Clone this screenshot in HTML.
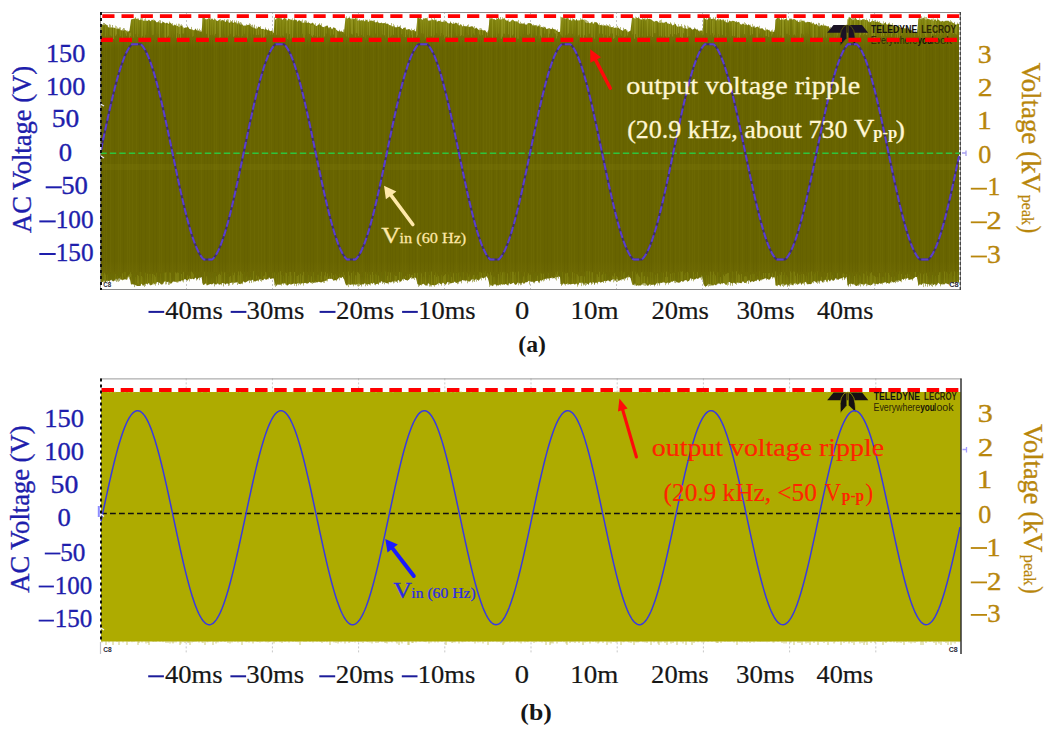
<!DOCTYPE html><html><head><meta charset="utf-8"><style>html,body{margin:0;padding:0;background:#fff;width:1054px;height:732px;overflow:hidden}</style></head><body><svg width="1054" height="732" viewBox="0 0 1054 732" style="position:absolute;left:0;top:0">
<rect width="1054" height="732" fill="#ffffff"/>
<defs><linearGradient id="og" gradientUnits="userSpaceOnUse" x1="0" y1="16" x2="0" y2="288"><stop offset="0" stop-color="#8c8e1c"/><stop offset="0.03" stop-color="#80820e"/><stop offset="0.08" stop-color="#706e04"/><stop offset="0.12" stop-color="#686400"/><stop offset="0.9" stop-color="#686400"/><stop offset="0.96" stop-color="#6e6a04"/><stop offset="1" stop-color="#7e7c10"/></linearGradient></defs>
<rect x="100" y="12" width="861" height="278" fill="#fdfdfd"/>
<line x1="186.5" y1="12" x2="186.5" y2="290" stroke="#c4c4c4" stroke-width="1" stroke-dasharray="2 2"/>
<line x1="272.5" y1="12" x2="272.5" y2="290" stroke="#c4c4c4" stroke-width="1" stroke-dasharray="2 2"/>
<line x1="358.5" y1="12" x2="358.5" y2="290" stroke="#c4c4c4" stroke-width="1" stroke-dasharray="2 2"/>
<line x1="444.5" y1="12" x2="444.5" y2="290" stroke="#c4c4c4" stroke-width="1" stroke-dasharray="2 2"/>
<line x1="530.5" y1="12" x2="530.5" y2="290" stroke="#c4c4c4" stroke-width="1" stroke-dasharray="2 2"/>
<line x1="616.5" y1="12" x2="616.5" y2="290" stroke="#c4c4c4" stroke-width="1" stroke-dasharray="2 2"/>
<line x1="702.5" y1="12" x2="702.5" y2="290" stroke="#c4c4c4" stroke-width="1" stroke-dasharray="2 2"/>
<line x1="788.5" y1="12" x2="788.5" y2="290" stroke="#c4c4c4" stroke-width="1" stroke-dasharray="2 2"/>
<line x1="874.5" y1="12" x2="874.5" y2="290" stroke="#c4c4c4" stroke-width="1" stroke-dasharray="2 2"/>
<path d="M101.0,23.8 L102.5,24.5 L104.0,25.6 L105.5,24.1 L107.0,25.2 L108.5,27.7 L110.0,27.6 L111.5,27.4 L113.0,27.7 L114.5,27.8 L116.0,28.6 L117.5,29.2 L119.0,28.3 L120.5,30.3 L122.0,30.3 L123.5,30.7 L125.0,30.1 L126.5,30.7 L128.0,32.4 L129.5,30.6 L131.0,19.9 L132.5,18.9 L134.0,18.7 L135.5,18.3 L137.0,19.1 L138.5,19.5 L140.0,20.2 L141.5,19.8 L143.0,20.6 L144.5,20.9 L146.0,20.5 L147.5,21.0 L149.0,19.6 L150.5,21.5 L152.0,19.5 L153.5,20.7 L155.0,20.6 L156.5,22.6 L158.0,22.0 L159.5,22.6 L161.0,23.4 L162.5,22.5 L164.0,22.2 L165.5,23.4 L167.0,22.5 L168.5,24.0 L170.0,22.6 L171.5,23.8 L173.0,25.8 L174.5,24.9 L176.0,25.7 L177.5,25.8 L179.0,27.3 L180.5,26.1 L182.0,25.9 L183.5,28.5 L185.0,27.6 L186.5,27.6 L188.0,26.8 L189.5,29.0 L191.0,29.3 L192.5,29.9 L194.0,30.4 L195.5,28.7 L197.0,31.1 L198.5,30.2 L200.0,31.7 L201.5,31.4 L203.0,18.1 L204.5,18.0 L206.0,19.5 L207.5,19.0 L209.0,18.3 L210.5,19.9 L212.0,18.2 L213.5,19.9 L215.0,19.0 L216.5,20.7 L218.0,21.0 L219.5,19.6 L221.0,21.5 L222.5,19.7 L224.0,20.9 L225.5,21.9 L227.0,20.3 L228.5,22.4 L230.0,22.7 L231.5,20.9 L233.0,23.2 L234.5,22.1 L236.0,22.6 L237.5,24.4 L239.0,22.0 L240.5,24.9 L242.0,23.9 L243.5,25.7 L245.0,25.5 L246.5,25.6 L248.0,24.8 L249.5,24.9 L251.0,26.4 L252.5,27.4 L254.0,28.0 L255.5,28.4 L257.0,28.7 L258.5,26.5 L260.0,27.3 L261.5,29.2 L263.0,28.8 L264.5,29.8 L266.0,29.1 L267.5,30.2 L269.0,30.2 L270.5,31.2 L272.0,30.5 L273.5,33.2 L275.0,19.5 L276.5,19.0 L278.0,17.3 L279.5,18.1 L281.0,18.7 L282.5,19.9 L284.0,17.9 L285.5,18.3 L287.0,21.0 L288.5,18.5 L290.0,19.4 L291.5,19.7 L293.0,20.6 L294.5,19.7 L296.0,19.7 L297.5,21.7 L299.0,20.1 L300.5,21.2 L302.0,22.7 L303.5,23.0 L305.0,22.2 L306.5,22.7 L308.0,22.7 L309.5,23.1 L311.0,23.7 L312.5,22.6 L314.0,24.0 L315.5,25.8 L317.0,26.0 L318.5,24.4 L320.0,24.4 L321.5,26.3 L323.0,27.1 L324.5,27.2 L326.0,25.7 L327.5,25.8 L329.0,28.5 L330.5,26.8 L332.0,29.5 L333.5,27.3 L335.0,28.0 L336.5,30.1 L338.0,31.3 L339.5,31.3 L341.0,31.6 L342.5,31.8 L344.0,32.4 L345.5,17.2 L347.0,18.7 L348.5,17.8 L350.0,18.0 L351.5,19.6 L353.0,18.6 L354.5,18.7 L356.0,18.0 L357.5,20.9 L359.0,20.4 L360.5,20.4 L362.0,20.5 L363.5,20.2 L365.0,21.6 L366.5,19.4 L368.0,22.1 L369.5,21.0 L371.0,20.4 L372.5,20.7 L374.0,21.4 L375.5,22.8 L377.0,21.8 L378.5,22.5 L380.0,23.3 L381.5,22.5 L383.0,23.6 L384.5,23.0 L386.0,23.7 L387.5,23.5 L389.0,24.9 L390.5,25.2 L392.0,26.6 L393.5,25.9 L395.0,27.4 L396.5,27.3 L398.0,26.9 L399.5,26.6 L401.0,28.3 L402.5,29.2 L404.0,27.6 L405.5,27.9 L407.0,30.3 L408.5,28.9 L410.0,29.5 L411.5,31.2 L413.0,29.7 L414.5,30.7 L416.0,32.0 L417.5,17.0 L419.0,18.4 L420.5,17.8 L422.0,20.1 L423.5,19.0 L425.0,18.3 L426.5,18.0 L428.0,20.5 L429.5,20.8 L431.0,20.5 L432.5,19.2 L434.0,20.5 L435.5,19.6 L437.0,21.9 L438.5,20.8 L440.0,20.9 L441.5,21.9 L443.0,21.7 L444.5,22.2 L446.0,21.0 L447.5,22.7 L449.0,23.8 L450.5,22.3 L452.0,23.4 L453.5,23.9 L455.0,23.2 L456.5,22.7 L458.0,25.1 L459.5,25.4 L461.0,24.3 L462.5,26.5 L464.0,25.7 L465.5,26.8 L467.0,25.9 L468.5,26.9 L470.0,26.7 L471.5,26.3 L473.0,26.6 L474.5,29.1 L476.0,27.7 L477.5,28.7 L479.0,30.3 L480.5,30.1 L482.0,29.9 L483.5,30.7 L485.0,30.1 L486.5,32.3 L488.0,32.7 L489.5,19.9 L491.0,18.7 L492.5,19.1 L494.0,19.3 L495.5,20.0 L497.0,19.3 L498.5,17.7 L500.0,19.8 L501.5,19.6 L503.0,18.8 L504.5,18.5 L506.0,20.6 L507.5,20.5 L509.0,21.7 L510.5,21.7 L512.0,19.7 L513.5,20.5 L515.0,21.6 L516.5,21.3 L518.0,22.6 L519.5,23.4 L521.0,23.9 L522.5,23.6 L524.0,24.1 L525.5,24.6 L527.0,24.6 L528.5,22.9 L530.0,23.2 L531.5,23.7 L533.0,25.7 L534.5,25.2 L536.0,25.2 L537.5,26.9 L539.0,25.5 L540.5,27.5 L542.0,26.8 L543.5,27.9 L545.0,26.4 L546.5,29.2 L548.0,28.6 L549.5,28.2 L551.0,29.2 L552.5,28.5 L554.0,29.3 L555.5,29.4 L557.0,30.9 L558.5,32.1 L560.0,31.7 L561.5,17.1 L563.0,17.8 L564.5,18.6 L566.0,19.2 L567.5,17.8 L569.0,19.8 L570.5,20.1 L572.0,20.7 L573.5,18.8 L575.0,20.7 L576.5,19.5 L578.0,20.7 L579.5,20.7 L581.0,19.2 L582.5,19.9 L584.0,19.7 L585.5,22.5 L587.0,23.0 L588.5,22.8 L590.0,23.4 L591.5,21.8 L593.0,24.0 L594.5,22.4 L596.0,22.1 L597.5,23.1 L599.0,25.2 L600.5,24.9 L602.0,25.5 L603.5,26.1 L605.0,24.9 L606.5,26.4 L608.0,25.2 L609.5,26.9 L611.0,27.2 L612.5,26.9 L614.0,27.9 L615.5,27.6 L617.0,28.6 L618.5,27.6 L620.0,29.2 L621.5,30.3 L623.0,30.8 L624.5,29.5 L626.0,29.1 L627.5,32.2 L629.0,31.4 L630.5,30.4 L632.0,17.7 L633.5,17.5 L635.0,18.9 L636.5,17.9 L638.0,18.0 L639.5,18.7 L641.0,19.4 L642.5,19.4 L644.0,18.5 L645.5,20.6 L647.0,18.4 L648.5,19.1 L650.0,19.0 L651.5,19.6 L653.0,21.0 L654.5,21.7 L656.0,20.7 L657.5,21.2 L659.0,22.7 L660.5,22.9 L662.0,22.3 L663.5,23.2 L665.0,22.3 L666.5,21.8 L668.0,24.1 L669.5,24.1 L671.0,23.1 L672.5,25.8 L674.0,24.4 L675.5,24.1 L677.0,26.6 L678.5,26.7 L680.0,26.3 L681.5,26.4 L683.0,28.0 L684.5,28.4 L686.0,28.2 L687.5,29.3 L689.0,27.5 L690.5,27.6 L692.0,29.6 L693.5,29.4 L695.0,28.3 L696.5,29.4 L698.0,30.0 L699.5,31.7 L701.0,30.1 L702.5,31.5 L704.0,17.5 L705.5,19.2 L707.0,20.1 L708.5,18.4 L710.0,18.3 L711.5,19.1 L713.0,18.7 L714.5,18.7 L716.0,20.7 L717.5,19.1 L719.0,20.8 L720.5,19.0 L722.0,20.4 L723.5,19.2 L725.0,21.5 L726.5,22.4 L728.0,22.7 L729.5,20.5 L731.0,21.5 L732.5,20.7 L734.0,21.1 L735.5,21.8 L737.0,22.6 L738.5,21.8 L740.0,23.8 L741.5,25.0 L743.0,23.3 L744.5,25.1 L746.0,24.7 L747.5,25.2 L749.0,24.4 L750.5,26.1 L752.0,27.3 L753.5,26.9 L755.0,27.7 L756.5,26.9 L758.0,26.5 L759.5,28.4 L761.0,28.4 L762.5,28.2 L764.0,29.9 L765.5,30.8 L767.0,29.2 L768.5,29.9 L770.0,31.6 L771.5,31.4 L773.0,31.7 L774.5,31.8 L776.0,19.2 L777.5,17.4 L779.0,18.3 L780.5,20.0 L782.0,19.3 L783.5,20.3 L785.0,18.9 L786.5,18.8 L788.0,20.9 L789.5,19.2 L791.0,19.3 L792.5,19.4 L794.0,19.1 L795.5,19.7 L797.0,20.9 L798.5,22.1 L800.0,22.2 L801.5,20.9 L803.0,20.5 L804.5,22.0 L806.0,22.5 L807.5,21.8 L809.0,21.9 L810.5,22.2 L812.0,24.0 L813.5,22.7 L815.0,24.9 L816.5,23.5 L818.0,25.9 L819.5,26.5 L821.0,25.1 L822.5,25.5 L824.0,25.5 L825.5,25.4 L827.0,26.4 L828.5,26.0 L830.0,28.9 L831.5,29.4 L833.0,27.9 L834.5,28.7 L836.0,28.6 L837.5,29.0 L839.0,30.8 L840.5,30.2 L842.0,30.5 L843.5,32.1 L845.0,31.8 L846.5,33.0 L848.0,19.9 L849.5,17.6 L851.0,17.8 L852.5,20.3 L854.0,20.1 L855.5,17.6 L857.0,20.1 L858.5,20.0 L860.0,20.4 L861.5,19.9 L863.0,18.9 L864.5,19.7 L866.0,20.0 L867.5,20.2 L869.0,22.3 L870.5,22.2 L872.0,20.7 L873.5,20.9 L875.0,21.9 L876.5,21.7 L878.0,21.8 L879.5,22.6 L881.0,23.1 L882.5,24.8 L884.0,23.4 L885.5,22.6 L887.0,25.3 L888.5,23.2 L890.0,24.5 L891.5,24.8 L893.0,25.7 L894.5,25.7 L896.0,26.9 L897.5,26.0 L899.0,26.6 L900.5,27.8 L902.0,27.9 L903.5,27.2 L905.0,28.8 L906.5,27.6 L908.0,28.6 L909.5,29.7 L911.0,30.1 L912.5,31.4 L914.0,32.1 L915.5,31.8 L917.0,32.8 L918.5,18.4 L920.0,17.9 L921.5,19.6 L923.0,17.5 L924.5,18.4 L926.0,20.0 L927.5,18.5 L929.0,19.3 L930.5,19.8 L932.0,19.5 L933.5,21.3 L935.0,18.8 L936.5,21.0 L938.0,19.2 L939.5,20.6 L941.0,22.1 L942.5,20.7 L944.0,21.7 L945.5,20.8 L947.0,20.7 L948.5,20.8 L950.0,22.6 L951.5,21.5 L953.0,23.0 L954.5,23.5 L956.0,25.1 L957.5,24.1 L959.0,23.7 L959.0,283.3 L957.5,281.4 L956.0,282.9 L954.5,281.9 L953.0,283.8 L951.5,282.1 L950.0,283.3 L948.5,284.5 L947.0,283.8 L945.5,283.2 L944.0,284.8 L942.5,283.5 L941.0,284.8 L939.5,283.7 L938.0,282.6 L936.5,285.6 L935.0,284.1 L933.5,284.9 L932.0,283.2 L930.5,285.0 L929.0,284.3 L927.5,284.3 L926.0,283.7 L924.5,283.2 L923.0,283.3 L921.5,285.1 L920.0,283.9 L918.5,286.0 L917.0,277.2 L915.5,276.7 L914.0,277.9 L912.5,279.4 L911.0,279.3 L909.5,280.1 L908.0,277.7 L906.5,278.8 L905.0,278.5 L903.5,279.5 L902.0,279.0 L900.5,281.4 L899.0,280.1 L897.5,280.8 L896.0,280.5 L894.5,282.3 L893.0,282.5 L891.5,280.7 L890.0,283.2 L888.5,283.0 L887.0,283.0 L885.5,282.1 L884.0,282.8 L882.5,282.7 L881.0,283.9 L879.5,282.9 L878.0,284.5 L876.5,283.7 L875.0,284.1 L873.5,282.4 L872.0,285.1 L870.5,284.8 L869.0,285.2 L867.5,284.3 L866.0,283.5 L864.5,284.2 L863.0,284.6 L861.5,284.2 L860.0,283.2 L858.5,284.6 L857.0,286.0 L855.5,285.7 L854.0,283.5 L852.5,284.4 L851.0,283.4 L849.5,284.1 L848.0,285.8 L846.5,276.4 L845.0,278.9 L843.5,277.0 L842.0,278.2 L840.5,278.5 L839.0,278.9 L837.5,279.7 L836.0,277.7 L834.5,280.0 L833.0,281.0 L831.5,279.1 L830.0,281.6 L828.5,279.4 L827.0,281.8 L825.5,279.7 L824.0,279.9 L822.5,282.7 L821.0,280.2 L819.5,281.7 L818.0,280.5 L816.5,283.0 L815.0,281.2 L813.5,281.0 L812.0,283.0 L810.5,284.2 L809.0,284.1 L807.5,284.4 L806.0,281.8 L804.5,282.6 L803.0,282.7 L801.5,284.9 L800.0,282.2 L798.5,284.2 L797.0,284.6 L795.5,282.7 L794.0,283.3 L792.5,285.6 L791.0,283.2 L789.5,284.1 L788.0,285.8 L786.5,283.8 L785.0,285.6 L783.5,283.7 L782.0,283.8 L780.5,286.1 L779.0,284.8 L777.5,285.3 L776.0,286.0 L774.5,276.7 L773.0,277.8 L771.5,276.5 L770.0,279.5 L768.5,279.5 L767.0,278.8 L765.5,278.0 L764.0,279.1 L762.5,279.4 L761.0,279.5 L759.5,281.4 L758.0,279.2 L756.5,280.5 L755.0,280.9 L753.5,282.1 L752.0,281.0 L750.5,282.5 L749.0,280.0 L747.5,281.0 L746.0,282.8 L744.5,282.9 L743.0,281.1 L741.5,283.3 L740.0,283.1 L738.5,282.5 L737.0,282.2 L735.5,283.9 L734.0,282.6 L732.5,283.5 L731.0,283.0 L729.5,282.1 L728.0,282.3 L726.5,284.7 L725.0,283.8 L723.5,283.1 L722.0,283.1 L720.5,284.3 L719.0,282.8 L717.5,283.6 L716.0,285.4 L714.5,284.4 L713.0,285.7 L711.5,284.8 L710.0,284.6 L708.5,283.7 L707.0,285.9 L705.5,286.2 L704.0,285.6 L702.5,276.2 L701.0,277.1 L699.5,277.4 L698.0,279.0 L696.5,278.3 L695.0,279.5 L693.5,279.5 L692.0,278.7 L690.5,278.3 L689.0,281.1 L687.5,281.3 L686.0,280.0 L684.5,280.4 L683.0,281.9 L681.5,280.7 L680.0,282.4 L678.5,282.8 L677.0,282.2 L675.5,280.7 L674.0,280.7 L672.5,281.6 L671.0,281.8 L669.5,282.8 L668.0,282.4 L666.5,282.9 L665.0,282.9 L663.5,281.8 L662.0,283.1 L660.5,282.5 L659.0,283.8 L657.5,282.4 L656.0,284.0 L654.5,285.0 L653.0,284.4 L651.5,285.1 L650.0,284.1 L648.5,285.4 L647.0,285.7 L645.5,283.3 L644.0,283.2 L642.5,283.6 L641.0,285.5 L639.5,285.5 L638.0,284.9 L636.5,286.1 L635.0,283.3 L633.5,285.2 L632.0,283.4 L630.5,278.0 L629.0,276.7 L627.5,276.9 L626.0,278.1 L624.5,278.2 L623.0,279.6 L621.5,279.0 L620.0,280.5 L618.5,280.6 L617.0,278.6 L615.5,280.9 L614.0,278.9 L612.5,279.5 L611.0,280.4 L609.5,281.3 L608.0,280.2 L606.5,281.3 L605.0,280.8 L603.5,281.4 L602.0,282.1 L600.5,282.8 L599.0,281.3 L597.5,283.0 L596.0,282.3 L594.5,283.9 L593.0,281.7 L591.5,283.4 L590.0,281.9 L588.5,284.6 L587.0,283.5 L585.5,282.7 L584.0,284.2 L582.5,282.5 L581.0,282.8 L579.5,282.6 L578.0,285.6 L576.5,283.1 L575.0,284.7 L573.5,283.7 L572.0,283.9 L570.5,284.5 L569.0,284.0 L567.5,283.3 L566.0,284.3 L564.5,283.7 L563.0,283.6 L561.5,286.2 L560.0,277.0 L558.5,276.3 L557.0,277.6 L555.5,276.7 L554.0,278.4 L552.5,277.5 L551.0,277.9 L549.5,278.2 L548.0,278.5 L546.5,278.6 L545.0,279.0 L543.5,279.3 L542.0,280.5 L540.5,280.2 L539.0,282.0 L537.5,280.7 L536.0,281.1 L534.5,281.9 L533.0,281.7 L531.5,281.8 L530.0,281.1 L528.5,280.8 L527.0,282.3 L525.5,282.3 L524.0,284.0 L522.5,282.4 L521.0,283.6 L519.5,283.5 L518.0,282.2 L516.5,284.5 L515.0,284.8 L513.5,282.4 L512.0,283.4 L510.5,284.3 L509.0,282.9 L507.5,285.5 L506.0,284.0 L504.5,284.3 L503.0,284.5 L501.5,284.3 L500.0,284.5 L498.5,285.4 L497.0,285.3 L495.5,284.6 L494.0,284.1 L492.5,286.2 L491.0,285.0 L489.5,284.4 L488.0,278.6 L486.5,276.3 L485.0,277.2 L483.5,278.4 L482.0,277.6 L480.5,277.7 L479.0,279.8 L477.5,280.0 L476.0,278.6 L474.5,280.4 L473.0,278.8 L471.5,279.5 L470.0,281.5 L468.5,281.5 L467.0,280.6 L465.5,280.6 L464.0,280.5 L462.5,280.1 L461.0,281.3 L459.5,281.4 L458.0,282.2 L456.5,282.9 L455.0,281.4 L453.5,282.4 L452.0,282.9 L450.5,283.6 L449.0,282.0 L447.5,282.1 L446.0,284.5 L444.5,283.9 L443.0,282.6 L441.5,284.2 L440.0,283.4 L438.5,282.8 L437.0,284.6 L435.5,284.9 L434.0,285.2 L432.5,284.9 L431.0,285.2 L429.5,284.1 L428.0,283.3 L426.5,285.8 L425.0,285.2 L423.5,283.6 L422.0,284.4 L420.5,285.0 L419.0,284.7 L417.5,284.3 L416.0,278.0 L414.5,277.3 L413.0,279.0 L411.5,277.1 L410.0,278.3 L408.5,279.9 L407.0,280.3 L405.5,279.9 L404.0,278.8 L402.5,279.0 L401.0,281.4 L399.5,280.9 L398.0,279.7 L396.5,282.1 L395.0,280.6 L393.5,281.8 L392.0,281.5 L390.5,282.5 L389.0,282.0 L387.5,283.4 L386.0,282.9 L384.5,281.9 L383.0,282.1 L381.5,281.2 L380.0,282.1 L378.5,284.0 L377.0,283.7 L375.5,284.6 L374.0,282.6 L372.5,283.8 L371.0,282.9 L369.5,284.4 L368.0,283.9 L366.5,284.7 L365.0,283.0 L363.5,284.6 L362.0,284.3 L360.5,285.1 L359.0,283.4 L357.5,284.2 L356.0,284.6 L354.5,284.4 L353.0,284.4 L351.5,284.4 L350.0,285.1 L348.5,283.8 L347.0,285.8 L345.5,284.3 L344.0,278.9 L342.5,276.7 L341.0,278.1 L339.5,277.0 L338.0,278.9 L336.5,279.9 L335.0,280.2 L333.5,280.4 L332.0,278.7 L330.5,278.7 L329.0,278.7 L327.5,279.3 L326.0,280.8 L324.5,281.0 L323.0,281.5 L321.5,282.4 L320.0,282.3 L318.5,281.5 L317.0,282.7 L315.5,281.6 L314.0,283.3 L312.5,282.1 L311.0,283.1 L309.5,281.9 L308.0,283.4 L306.5,283.6 L305.0,282.7 L303.5,283.6 L302.0,283.0 L300.5,283.8 L299.0,282.7 L297.5,283.4 L296.0,284.1 L294.5,283.5 L293.0,283.7 L291.5,284.6 L290.0,283.7 L288.5,284.4 L287.0,285.5 L285.5,283.2 L284.0,283.5 L282.5,283.1 L281.0,284.6 L279.5,284.8 L278.0,284.1 L276.5,285.9 L275.0,283.3 L273.5,278.3 L272.0,278.5 L270.5,278.9 L269.0,277.3 L267.5,279.3 L266.0,279.8 L264.5,278.5 L263.0,280.5 L261.5,279.5 L260.0,279.1 L258.5,280.7 L257.0,280.4 L255.5,281.6 L254.0,281.2 L252.5,279.5 L251.0,280.4 L249.5,279.9 L248.0,281.0 L246.5,281.7 L245.0,282.8 L243.5,281.2 L242.0,283.5 L240.5,283.8 L239.0,283.9 L237.5,281.7 L236.0,282.6 L234.5,282.8 L233.0,282.5 L231.5,282.7 L230.0,283.0 L228.5,284.0 L227.0,283.0 L225.5,284.8 L224.0,283.0 L222.5,282.9 L221.0,284.0 L219.5,284.7 L218.0,283.3 L216.5,284.2 L215.0,284.0 L213.5,283.3 L212.0,284.4 L210.5,283.9 L209.0,283.9 L207.5,285.4 L206.0,283.3 L204.5,284.4 L203.0,285.1 L201.5,276.9 L200.0,277.2 L198.5,277.9 L197.0,279.6 L195.5,277.2 L194.0,279.5 L192.5,278.6 L191.0,279.2 L189.5,278.2 L188.0,280.1 L186.5,280.2 L185.0,278.8 L183.5,280.5 L182.0,280.1 L180.5,281.5 L179.0,281.1 L177.5,281.7 L176.0,281.8 L174.5,281.8 L173.0,281.5 L171.5,283.4 L170.0,283.3 L168.5,281.4 L167.0,282.3 L165.5,281.3 L164.0,281.6 L162.5,284.5 L161.0,284.6 L159.5,282.8 L158.0,282.1 L156.5,282.2 L155.0,284.5 L153.5,282.8 L152.0,284.8 L150.5,285.5 L149.0,282.8 L147.5,284.5 L146.0,283.5 L144.5,284.6 L143.0,285.9 L141.5,283.5 L140.0,286.1 L138.5,285.9 L137.0,285.9 L135.5,285.0 L134.0,284.4 L132.5,284.2 L131.0,284.6 L129.5,276.7 L128.0,276.6 L126.5,279.4 L125.0,279.2 L123.5,279.8 L122.0,280.0 L120.5,279.0 L119.0,277.9 L117.5,279.9 L116.0,278.5 L114.5,280.8 L113.0,281.4 L111.5,279.5 L110.0,280.7 L108.5,280.9 L107.0,280.4 L105.5,282.4 L104.0,280.2 L102.5,282.1 L101.0,282.1 Z" fill="url(#og)"/>
<path d="M102.5 26.0V34.3M104.5 283.4V272.7M105.5 25.3V36.4M105.5 280.6V274.5M110.5 24.7V35.5M111.5 27.5V36.4M120.5 27.3V36.2M120.5 279.9V276.7M122.5 29.1V38.2M122.5 280.4V273.4M128.5 277.6V275.1M129.5 279.4V274.1M130.5 277.1V272.3M133.5 20.1V37.7M135.5 17.1V34.2M137.5 18.3V36.9M137.5 283.5V275.0M138.5 284.5V275.8M141.5 17.4V38.4M141.5 283.6V276.0M144.5 19.3V38.6M145.5 18.3V34.8M147.5 284.2V273.7M152.5 20.5V35.0M152.5 284.5V273.9M153.5 19.4V34.7M154.5 284.3V275.2M155.5 285.7V276.7M164.5 24.3V37.7M165.5 284.5V272.6M170.5 283.7V272.7M175.5 281.3V272.3M176.5 282.5V273.4M177.5 26.5V33.1M177.5 282.8V272.5M178.5 23.7V38.0M178.5 282.3V272.7M181.5 280.0V274.0M182.5 25.4V33.5M183.5 282.4V271.9M187.5 280.9V275.4M189.5 281.4V275.8M191.5 279.1V271.6M192.5 29.4V36.8M192.5 278.5V272.6M193.5 30.1V36.0M193.5 277.7V274.2M206.5 285.3V276.3M210.5 17.8V35.0M212.5 20.3V34.7M214.5 18.4V35.6M216.5 284.5V276.3M218.5 284.4V274.7M219.5 283.2V273.8M220.5 283.7V274.9M224.5 282.7V272.4M228.5 19.5V35.6M229.5 285.4V276.8M230.5 20.2V33.9M230.5 282.3V276.0M233.5 284.2V275.2M234.5 20.4V36.1M234.5 282.3V272.6M236.5 20.5V34.8M238.5 21.0V36.0M238.5 283.7V271.5M240.5 284.2V271.4M242.5 25.5V36.0M244.5 25.9V33.9M247.5 26.8V38.6M253.5 26.7V34.5M253.5 282.3V271.2M256.5 278.9V275.5M258.5 281.5V276.5M260.5 26.0V34.4M263.5 278.6V276.2M264.5 278.3V275.5M265.5 279.5V272.0M266.5 31.4V34.6M270.5 31.7V34.8M280.5 16.8V36.6M280.5 284.6V271.2M282.5 19.8V35.5M283.5 19.9V36.3M286.5 285.2V273.1M287.5 20.6V39.0M290.5 19.8V38.6M290.5 284.8V271.9M294.5 285.8V272.0M297.5 22.1V38.1M297.5 282.4V276.0M298.5 285.3V274.9M300.5 285.1V273.7M302.5 19.6V33.8M302.5 283.1V275.3M303.5 22.6V38.4M303.5 285.6V271.8M304.5 20.6V38.9M311.5 283.3V276.3M315.5 23.2V36.1M319.5 23.1V36.4M321.5 280.3V271.6M324.5 283.0V275.4M325.5 279.2V272.1M326.5 28.2V33.6M326.5 281.2V276.6M327.5 281.4V273.5M329.5 278.7V276.3M330.5 27.0V35.6M331.5 278.4V273.0M333.5 280.6V275.1M344.5 29.4V33.8M344.5 278.5V275.2M346.5 16.3V36.5M348.5 19.6V37.5M348.5 287.1V271.6M349.5 283.6V275.5M351.5 284.0V272.9M355.5 18.1V37.2M355.5 285.3V275.3M357.5 18.3V33.6M357.5 286.2V272.1M358.5 286.7V272.7M359.5 286.0V273.9M361.5 20.0V35.1M363.5 19.4V36.9M367.5 19.7V35.0M370.5 285.5V274.7M372.5 284.1V272.0M375.5 22.2V33.6M377.5 20.6V36.6M378.5 285.0V275.6M382.5 24.6V34.5M387.5 280.5V275.8M390.5 25.7V36.7M390.5 280.3V272.6M391.5 23.0V35.5M395.5 281.9V275.9M396.5 279.7V276.0M398.5 27.8V37.8M399.5 282.4V271.9M401.5 28.0V34.3M405.5 278.1V276.0M407.5 29.1V34.6M409.5 29.4V38.4M409.5 279.1V274.0M411.5 28.6V34.9M411.5 279.1V275.0M412.5 276.9V274.8M414.5 28.9V33.3M414.5 280.0V273.0M417.5 283.5V272.7M421.5 19.3V33.2M421.5 285.5V273.4M423.5 18.0V33.7M425.5 19.7V38.5M425.5 284.6V271.9M427.5 17.6V37.0M431.5 286.6V271.3M433.5 20.8V37.6M434.5 17.7V35.3M434.5 286.7V275.0M436.5 19.6V33.1M436.5 283.1V276.8M438.5 285.3V276.1M440.5 19.7V36.3M441.5 21.6V33.1M443.5 20.6V34.9M443.5 282.7V276.2M444.5 20.5V38.7M444.5 283.7V275.1M445.5 20.8V36.9M445.5 285.1V273.9M451.5 281.9V276.9M453.5 283.0V273.3M456.5 24.7V35.8M463.5 24.4V36.1M468.5 24.4V35.2M468.5 281.0V276.7M471.5 28.8V37.0M473.5 28.8V33.3M473.5 281.2V274.9M474.5 26.1V34.9M480.5 28.0V35.7M481.5 280.4V273.0M485.5 32.0V38.9M487.5 277.2V273.2M490.5 285.8V272.2M491.5 284.9V275.3M496.5 17.0V37.3M498.5 17.9V33.6M498.5 285.1V274.1M502.5 284.8V272.4M503.5 18.7V33.6M507.5 284.7V273.4M512.5 282.3V271.7M513.5 20.1V34.2M513.5 282.3V271.8M517.5 21.2V38.7M518.5 19.9V38.8M518.5 285.3V271.5M523.5 282.7V276.4M528.5 24.0V35.1M528.5 280.9V273.3M530.5 281.3V274.7M531.5 25.2V37.5M536.5 24.9V35.7M537.5 280.8V275.7M541.5 281.4V273.6M543.5 281.4V273.7M544.5 27.4V33.6M551.5 278.2V276.4M554.5 30.7V33.1M556.5 280.5V274.4M557.5 29.3V36.1M557.5 276.7V271.6M561.5 17.4V35.7M562.5 17.8V36.7M565.5 17.2V35.3M565.5 285.6V273.5M567.5 20.3V34.7M567.5 284.6V273.0M572.5 18.3V33.9M572.5 283.5V272.2M577.5 286.7V274.6M578.5 283.5V276.2M579.5 20.1V34.6M580.5 283.2V276.1M581.5 286.1V275.8M584.5 285.0V276.4M586.5 20.1V36.7M589.5 282.9V271.3M591.5 23.8V37.1M592.5 21.8V37.5M592.5 284.0V272.3M594.5 21.9V38.7M597.5 284.3V274.4M598.5 281.9V276.8M599.5 282.0V271.8M602.5 281.0V274.4M603.5 24.5V37.6M605.5 26.4V34.8M607.5 25.1V38.9M610.5 25.4V33.5M612.5 279.1V275.6M613.5 282.3V276.6M614.5 28.1V38.0M614.5 281.2V273.3M616.5 282.1V276.0M617.5 282.0V277.0M618.5 29.7V36.0M620.5 27.0V34.4M621.5 30.1V35.9M624.5 29.2V37.0M625.5 29.5V36.4M627.5 280.2V276.2M628.5 31.8V33.4M628.5 277.7V275.0M630.5 276.6V276.2M632.5 19.4V34.3M632.5 285.1V271.5M636.5 17.0V37.0M636.5 285.2V274.3M637.5 19.2V38.5M637.5 283.5V273.4M638.5 286.1V275.5M639.5 18.3V37.1M639.5 283.8V276.8M641.5 283.3V272.4M642.5 16.8V36.6M644.5 285.7V276.0M647.5 283.3V276.6M650.5 21.0V35.9M655.5 21.8V33.2M657.5 285.5V273.4M659.5 20.7V36.2M663.5 22.5V37.4M665.5 285.2V277.0M666.5 24.0V37.6M666.5 283.6V271.6M667.5 281.4V276.8M669.5 24.0V37.0M670.5 282.6V273.7M681.5 24.1V37.9M681.5 280.8V271.8M682.5 280.6V271.2M687.5 281.9V271.9M693.5 281.3V271.8M695.5 31.1V36.7M697.5 277.5V272.1M699.5 277.5V276.9M701.5 31.6V33.1M701.5 279.8V275.0M702.5 30.2V35.3M703.5 17.0V34.6M710.5 17.0V34.8M710.5 286.1V271.6M713.5 17.3V36.6M713.5 284.8V271.6M714.5 20.8V34.9M715.5 283.6V275.4M717.5 19.3V38.0M718.5 18.4V34.1M719.5 19.1V36.3M720.5 284.4V277.0M723.5 282.6V274.6M724.5 282.9V276.1M725.5 19.9V36.4M725.5 285.0V274.3M726.5 284.9V273.8M727.5 285.7V273.1M728.5 284.9V272.9M736.5 284.9V271.3M738.5 22.1V37.0M738.5 283.3V273.7M739.5 281.6V274.8M741.5 281.4V273.9M744.5 282.7V276.5M745.5 283.0V276.2M746.5 283.4V276.5M750.5 280.3V274.7M756.5 27.3V37.4M759.5 25.8V33.5M763.5 278.4V273.0M765.5 27.6V36.2M765.5 278.5V272.9M768.5 279.3V273.2M769.5 277.0V272.9M771.5 30.2V36.4M772.5 278.7V273.4M775.5 285.3V271.1M777.5 286.3V275.8M780.5 20.1V35.5M780.5 286.6V275.2M781.5 283.7V272.0M786.5 17.7V33.9M787.5 20.3V33.7M789.5 18.4V35.1M790.5 285.0V271.5M793.5 21.6V35.1M794.5 284.0V271.7M795.5 21.0V35.7M795.5 284.7V275.7M797.5 284.7V273.5M803.5 20.7V34.5M803.5 284.0V274.0M811.5 283.9V271.4M812.5 23.5V38.9M816.5 25.9V37.7M817.5 25.2V36.8M821.5 281.0V276.8M823.5 23.8V37.7M826.5 25.8V37.7M826.5 281.9V276.7M827.5 282.4V273.0M837.5 30.8V35.7M837.5 278.4V273.1M843.5 28.9V38.0M843.5 276.9V273.3M845.5 278.0V277.0M846.5 275.9V274.3M847.5 19.2V37.1M854.5 285.0V276.0M859.5 18.1V37.6M863.5 20.6V35.4M863.5 286.1V273.4M867.5 285.4V275.7M870.5 285.8V273.3M871.5 21.9V36.6M871.5 283.3V272.3M873.5 22.5V35.0M874.5 284.1V275.8M875.5 285.6V276.8M879.5 21.1V34.0M879.5 282.5V273.2M886.5 24.6V36.1M888.5 283.8V272.8M889.5 22.5V34.2M891.5 282.6V276.9M892.5 23.1V34.1M895.5 27.3V37.8M899.5 27.8V38.8M901.5 28.5V35.0M901.5 282.2V273.9M905.5 280.4V274.8M907.5 277.9V273.8M912.5 28.1V33.3M914.5 32.2V36.8M915.5 276.7V271.9M917.5 279.1V276.3M918.5 19.4V36.3M920.5 18.9V37.0M920.5 284.4V273.4M923.5 287.1V274.3M924.5 16.7V34.4M926.5 17.0V37.2M926.5 284.0V273.3M929.5 19.5V33.8M938.5 21.9V34.0M938.5 282.7V275.0M939.5 282.8V272.3M940.5 21.2V35.6M942.5 21.4V34.3M944.5 283.6V271.5M946.5 21.5V33.4M954.5 282.0V271.4" stroke="#8a8c16" stroke-width="1" stroke-opacity="0.55" fill="none"/>
<path d="M101.5 280.7V274.2M102.5 282.0V271.4M103.5 282.6V274.5M107.5 25.0V36.3M107.5 281.8V274.7M109.5 24.3V34.8M115.5 280.8V274.0M117.5 281.4V276.2M119.5 27.4V34.4M123.5 277.8V276.9M124.5 28.3V36.6M124.5 276.9V271.9M125.5 279.2V271.9M126.5 280.0V277.0M127.5 279.4V275.4M128.5 31.0V34.2M131.5 19.3V37.4M131.5 284.1V274.0M135.5 285.2V276.9M138.5 18.4V34.1M140.5 286.0V272.0M142.5 283.1V276.8M145.5 285.9V273.0M149.5 284.7V274.1M150.5 283.2V273.8M153.5 284.4V274.4M156.5 22.3V33.8M156.5 283.7V272.9M158.5 21.0V34.3M160.5 282.4V273.6M164.5 281.7V272.6M166.5 284.3V272.1M169.5 21.6V37.3M169.5 284.7V272.6M170.5 25.3V36.8M172.5 23.1V37.8M174.5 24.5V34.5M187.5 25.7V38.0M189.5 29.7V37.5M191.5 26.9V33.3M197.5 28.5V33.9M199.5 28.8V33.4M202.5 17.3V33.5M204.5 283.6V271.5M218.5 20.3V33.3M221.5 285.2V271.5M224.5 19.3V34.0M225.5 22.1V37.5M227.5 19.2V38.4M232.5 284.8V272.4M237.5 285.0V275.2M239.5 283.8V275.3M241.5 22.7V37.9M241.5 282.6V272.6M242.5 284.2V273.9M246.5 24.2V37.3M246.5 281.7V276.4M250.5 23.9V33.5M250.5 281.0V276.7M251.5 25.2V37.6M261.5 281.7V272.1M266.5 278.0V273.5M272.5 277.0V272.7M274.5 17.3V35.4M274.5 285.3V272.4M276.5 283.5V274.6M278.5 19.9V35.2M278.5 285.0V272.6M281.5 16.7V39.0M281.5 285.6V274.9M283.5 284.7V275.8M285.5 19.4V33.5M285.5 284.6V272.6M288.5 21.0V35.6M288.5 284.6V275.9M289.5 283.0V271.9M291.5 19.7V38.6M291.5 284.2V275.5M296.5 19.9V33.7M296.5 286.2V275.9M299.5 20.6V37.0M305.5 20.2V35.1M308.5 21.8V33.2M308.5 282.9V274.8M313.5 282.5V272.1M317.5 280.8V274.7M318.5 282.0V274.7M320.5 281.3V276.0M321.5 23.4V37.8M323.5 27.3V37.7M325.5 27.9V33.3M329.5 27.3V33.4M331.5 29.8V34.6M335.5 277.9V274.0M336.5 281.2V275.5M337.5 30.8V35.0M337.5 278.7V276.1M339.5 280.3V273.6M341.5 30.7V34.8M341.5 278.1V274.5M343.5 29.5V33.2M343.5 278.6V272.0M349.5 16.6V33.2M353.5 286.3V271.2M356.5 284.2V275.5M359.5 19.2V33.7M365.5 19.5V38.3M365.5 286.3V271.8M367.5 285.9V273.7M370.5 20.8V34.6M372.5 23.0V37.3M373.5 20.4V38.7M373.5 282.6V274.9M375.5 285.3V273.8M376.5 283.6V274.8M380.5 23.4V36.8M385.5 22.3V37.7M385.5 282.7V271.6M388.5 284.3V272.1M394.5 282.7V274.8M395.5 27.2V33.9M397.5 25.4V35.3M401.5 281.1V272.5M402.5 29.0V34.1M403.5 28.3V37.1M403.5 280.8V276.4M407.5 280.8V273.8M415.5 276.9V273.5M423.5 284.0V276.5M429.5 20.5V35.5M429.5 286.6V274.9M430.5 20.3V36.4M435.5 285.2V272.3M437.5 21.5V33.8M437.5 283.6V274.4M438.5 21.9V35.2M441.5 285.7V275.1M448.5 284.9V274.6M455.5 22.6V33.3M456.5 282.9V273.1M457.5 23.3V36.1M458.5 22.7V34.2M458.5 283.7V272.7M460.5 281.2V276.5M463.5 280.2V272.2M467.5 25.0V33.2M467.5 283.3V273.3M469.5 280.0V274.4M472.5 29.2V34.3M472.5 282.3V276.6M474.5 282.0V275.1M476.5 281.6V276.4M477.5 29.7V33.9M477.5 278.1V274.7M478.5 29.9V38.7M479.5 279.9V271.9M480.5 279.0V271.9M483.5 30.3V38.0M483.5 277.8V272.2M484.5 276.9V272.7M485.5 280.3V271.1M488.5 279.2V274.1M489.5 16.8V33.5M489.5 286.9V275.4M490.5 16.9V36.7M491.5 16.2V37.2M493.5 19.7V34.6M493.5 285.5V276.9M494.5 19.1V36.4M494.5 284.6V276.6M500.5 17.0V38.8M500.5 285.5V272.0M501.5 283.3V275.2M503.5 283.0V271.7M504.5 285.0V272.4M505.5 20.2V35.8M510.5 283.7V271.9M514.5 282.2V274.8M515.5 284.5V272.5M520.5 21.8V36.1M521.5 23.1V37.4M523.5 23.2V34.2M524.5 282.5V272.1M527.5 282.0V275.6M529.5 284.5V275.1M533.5 24.4V33.6M539.5 24.4V38.5M540.5 279.2V272.5M546.5 29.3V38.8M548.5 278.5V272.9M552.5 27.6V36.4M552.5 278.6V277.0M554.5 278.1V275.1M555.5 279.3V272.2M558.5 278.7V275.1M562.5 284.2V272.0M564.5 17.5V38.4M566.5 283.9V273.2M568.5 284.8V276.5M570.5 18.3V35.8M574.5 19.4V35.8M574.5 283.5V273.1M576.5 284.0V273.9M577.5 21.0V37.1M581.5 20.8V33.7M582.5 18.6V34.9M582.5 283.5V275.9M586.5 284.9V271.2M587.5 20.9V37.5M587.5 283.5V271.2M588.5 21.6V34.4M591.5 284.8V272.3M596.5 282.8V274.1M598.5 25.2V36.8M601.5 280.5V275.1M603.5 283.0V271.9M605.5 282.8V273.7M606.5 24.3V35.8M617.5 25.9V33.6M620.5 279.6V276.8M621.5 280.5V271.0M623.5 279.4V273.5M624.5 280.7V272.0M635.5 285.5V271.7M642.5 284.9V271.7M643.5 285.3V276.5M644.5 18.5V38.0M645.5 18.6V37.4M649.5 18.7V34.2M650.5 285.8V272.1M652.5 284.8V272.5M655.5 284.8V274.9M660.5 20.1V35.2M663.5 282.7V272.6M667.5 24.2V38.6M672.5 281.8V272.9M674.5 282.7V272.8M678.5 281.4V272.2M680.5 280.5V271.3M684.5 24.8V35.5M684.5 279.3V274.7M685.5 278.9V272.9M688.5 26.4V36.2M688.5 279.8V273.2M689.5 28.4V36.6M695.5 277.5V274.0M697.5 28.9V36.6M699.5 30.5V35.1M700.5 31.2V35.1M706.5 283.9V275.1M708.5 286.6V275.4M712.5 283.9V274.8M714.5 283.5V273.9M717.5 284.3V272.3M730.5 22.8V37.6M732.5 285.8V271.4M737.5 283.0V275.2M741.5 24.3V33.9M743.5 24.1V36.1M745.5 23.1V35.6M746.5 24.0V37.8M752.5 279.8V273.7M753.5 279.8V274.4M754.5 281.0V273.9M757.5 279.1V276.1M759.5 280.7V271.3M761.5 28.7V35.9M761.5 280.4V275.5M763.5 30.4V37.9M769.5 29.8V37.2M774.5 277.6V274.8M775.5 19.5V33.4M777.5 18.1V37.0M779.5 16.8V38.5M779.5 285.3V273.8M783.5 286.9V275.0M784.5 285.7V272.3M786.5 284.7V275.1M787.5 287.0V276.6M791.5 285.1V272.8M793.5 285.3V271.3M799.5 20.4V38.0M799.5 283.7V275.0M801.5 282.5V274.0M804.5 20.7V36.3M804.5 285.4V275.4M806.5 23.5V33.1M806.5 283.5V275.7M808.5 23.1V34.4M808.5 282.0V272.6M811.5 21.8V36.6M812.5 281.8V275.6M814.5 281.3V274.1M815.5 24.9V37.6M815.5 281.4V272.3M817.5 283.8V271.3M821.5 24.8V38.0M824.5 26.1V36.4M830.5 279.9V272.3M832.5 278.7V275.1M834.5 27.6V37.9M836.5 30.2V38.8M842.5 280.2V274.0M844.5 31.8V37.5M844.5 280.0V273.9M849.5 16.9V37.8M849.5 283.9V275.4M852.5 17.4V38.3M856.5 19.8V34.9M856.5 284.2V274.2M859.5 285.1V275.2M860.5 286.5V276.3M864.5 284.8V274.1M866.5 286.2V271.4M867.5 20.4V35.4M869.5 19.0V37.0M869.5 284.3V276.4M872.5 283.5V275.2M873.5 283.8V275.6M877.5 20.7V37.8M877.5 282.8V276.8M882.5 23.5V38.3M882.5 284.4V276.8M883.5 282.8V276.8M885.5 282.4V272.7M888.5 25.1V34.2M889.5 283.7V274.8M894.5 281.1V276.3M898.5 282.0V274.2M899.5 280.8V271.3M903.5 25.6V34.2M905.5 29.9V35.6M908.5 29.7V35.8M909.5 277.4V274.4M911.5 30.2V37.4M911.5 278.0V276.4M912.5 280.6V276.8M917.5 31.8V34.9M918.5 285.3V274.7M921.5 16.2V38.0M923.5 19.0V38.9M924.5 283.6V272.6M927.5 20.3V37.4M927.5 286.8V276.0M932.5 286.8V274.9M935.5 286.3V275.8M937.5 18.3V38.0M940.5 286.3V272.1M941.5 21.3V37.5M944.5 21.6V36.6M946.5 282.5V271.7M947.5 282.8V273.4M949.5 21.7V37.4M949.5 285.1V273.8M950.5 20.2V38.0M950.5 281.9V272.3M951.5 281.7V271.5M953.5 283.1V276.0M957.5 22.6V35.3M957.5 281.6V272.2" stroke="#7a7c0a" stroke-width="1" stroke-opacity="0.55" fill="none"/>
<path d="M101.5 26.0V35.4M113.5 27.6V39.0M115.5 25.6V35.8M116.5 26.2V34.5M125.5 30.5V33.4M126.5 30.8V35.8M129.5 33.1V38.2M130.5 32.6V36.2M142.5 17.5V36.3M159.5 20.0V38.3M165.5 23.6V37.9M167.5 24.7V36.8M168.5 24.7V35.7M176.5 23.7V38.3M179.5 23.8V34.1M180.5 24.8V38.8M183.5 27.1V33.5M206.5 20.0V33.8M208.5 17.3V38.4M215.5 19.6V33.9M219.5 19.5V38.5M220.5 18.9V37.4M233.5 23.8V36.8M256.5 26.4V35.0M258.5 29.1V34.8M261.5 29.8V37.9M263.5 30.0V37.6M264.5 30.1V36.6M272.5 29.9V34.5M276.5 16.3V34.8M286.5 18.7V33.3M289.5 19.2V34.0M292.5 18.3V38.7M309.5 24.3V34.0M311.5 25.0V35.7M312.5 25.3V36.8M313.5 23.9V35.2M317.5 25.4V37.5M324.5 26.4V36.5M333.5 29.1V34.6M335.5 28.0V38.6M336.5 30.7V38.1M351.5 18.2V33.8M352.5 16.5V34.5M356.5 17.5V33.0M358.5 20.9V36.1M369.5 19.3V35.6M384.5 24.6V35.3M388.5 23.9V38.7M393.5 23.9V34.8M405.5 27.2V37.2M412.5 30.0V39.0M416.5 29.7V37.0M417.5 17.7V35.5M431.5 17.3V36.4M446.5 22.7V36.4M448.5 23.4V37.4M451.5 23.8V37.9M460.5 24.0V36.1M461.5 26.1V35.2M479.5 28.3V34.4M482.5 29.8V34.9M487.5 31.2V35.7M492.5 17.5V38.1M501.5 19.3V38.7M502.5 17.2V36.6M504.5 17.9V33.7M508.5 19.3V34.4M510.5 21.5V38.1M512.5 19.6V35.5M515.5 21.6V37.8M527.5 23.4V34.7M529.5 24.8V33.7M540.5 25.1V35.6M541.5 28.3V37.6M548.5 29.1V37.5M549.5 28.6V33.7M555.5 29.8V33.6M556.5 32.0V38.4M560.5 16.6V34.4M568.5 18.1V33.4M578.5 19.9V35.4M580.5 18.1V37.3M583.5 19.9V38.1M584.5 19.4V35.2M589.5 23.3V33.7M599.5 22.9V33.6M602.5 24.9V33.8M609.5 24.1V35.9M612.5 27.0V33.5M613.5 26.1V38.8M616.5 26.7V35.2M627.5 30.4V35.6M634.5 18.3V38.7M635.5 16.6V34.1M647.5 17.8V36.3M652.5 21.6V37.0M654.5 22.2V33.1M661.5 19.6V36.5M665.5 21.8V36.4M668.5 23.0V36.8M670.5 22.0V34.2M672.5 25.5V36.5M674.5 22.5V34.1M676.5 26.3V34.7M678.5 24.1V33.1M680.5 27.0V36.9M682.5 26.2V38.3M683.5 27.8V33.2M687.5 25.5V36.7M706.5 16.5V33.0M712.5 20.5V33.2M722.5 19.5V34.9M732.5 21.6V35.9M734.5 22.0V36.2M737.5 23.8V37.9M739.5 22.4V39.0M744.5 22.1V34.1M750.5 24.6V35.3M752.5 23.9V34.2M757.5 27.9V37.6M766.5 29.4V36.1M768.5 31.4V36.9M772.5 29.6V34.3M782.5 19.5V38.2M783.5 17.8V38.0M794.5 19.7V34.5M800.5 19.5V38.6M801.5 19.6V33.6M813.5 22.7V37.9M840.5 29.6V38.7M845.5 29.8V36.5M846.5 32.0V34.5M848.5 17.4V38.0M850.5 19.8V36.5M854.5 16.9V38.6M860.5 19.6V35.2M864.5 19.1V34.1M866.5 18.5V35.0M872.5 19.3V37.1M874.5 21.3V38.9M881.5 23.5V36.5M883.5 21.3V35.9M891.5 24.9V36.8M896.5 25.9V34.3M897.5 27.9V38.9M925.5 17.0V36.6M931.5 18.8V37.2M932.5 18.7V34.0M933.5 18.4V34.5M935.5 21.3V35.0M947.5 23.2V35.7M951.5 21.4V33.1M953.5 23.3V34.1M955.5 24.5V33.8M956.5 24.4V34.5" stroke="#9c9e2a" stroke-width="1" stroke-opacity="0.55" fill="none"/>
<path d="M103.5 22.9V36.4M104.5 23.0V34.3M108.5 26.9V35.8M108.5 280.9V272.5M109.5 282.8V275.4M110.5 279.8V273.9M111.5 280.4V273.1M112.5 25.0V33.6M112.5 280.8V275.0M113.5 279.8V273.3M116.5 281.9V274.0M117.5 27.6V34.7M118.5 30.2V37.1M118.5 281.8V271.9M119.5 281.1V272.1M123.5 28.0V36.8M127.5 30.6V33.5M133.5 284.3V275.2M134.5 19.4V37.3M134.5 287.1V273.2M140.5 18.5V37.5M144.5 286.9V272.2M147.5 20.9V33.4M149.5 21.1V38.3M150.5 21.1V36.7M154.5 19.9V38.8M155.5 20.8V34.5M158.5 285.1V276.4M159.5 282.7V276.7M160.5 20.3V37.0M162.5 21.4V34.2M162.5 281.9V273.2M163.5 22.0V33.1M163.5 283.5V272.8M166.5 23.6V33.5M167.5 281.4V276.1M168.5 284.9V273.5M172.5 280.6V271.1M174.5 280.6V275.9M175.5 24.9V38.3M179.5 281.3V272.6M180.5 280.3V272.1M181.5 24.4V34.7M182.5 281.4V273.4M185.5 28.1V37.3M185.5 279.2V275.3M195.5 28.7V33.4M195.5 278.0V275.5M196.5 29.9V35.3M196.5 280.5V272.7M197.5 279.3V275.2M199.5 280.2V271.6M200.5 30.2V36.1M200.5 278.0V275.6M202.5 283.4V273.8M204.5 20.1V35.3M208.5 284.8V272.0M209.5 18.1V37.4M209.5 284.6V272.9M210.5 283.6V276.6M212.5 283.3V273.3M214.5 286.4V272.7M215.5 284.7V272.9M216.5 20.7V37.9M221.5 20.1V35.4M223.5 20.4V35.7M223.5 286.4V273.7M225.5 283.8V275.5M226.5 19.8V37.5M226.5 283.3V276.8M227.5 283.7V273.7M228.5 285.9V273.9M229.5 22.9V38.6M232.5 20.1V37.7M236.5 282.4V272.9M237.5 22.8V36.3M239.5 24.8V34.4M240.5 22.1V37.8M244.5 280.6V271.1M247.5 280.8V274.9M249.5 23.4V37.0M249.5 283.1V276.9M251.5 282.8V273.6M252.5 24.7V36.2M252.5 280.1V273.2M254.5 24.7V38.5M254.5 279.8V271.4M260.5 281.0V273.8M265.5 27.5V33.2M268.5 28.7V33.8M268.5 279.3V275.0M270.5 278.7V273.2M275.5 20.0V33.6M275.5 286.8V272.4M282.5 283.9V272.9M287.5 285.5V273.3M292.5 283.9V274.6M294.5 18.4V37.3M295.5 20.7V34.2M295.5 283.2V272.3M298.5 21.1V36.3M299.5 284.1V272.1M300.5 20.9V35.7M301.5 20.8V33.4M301.5 283.7V271.6M304.5 282.8V275.9M305.5 282.2V276.4M306.5 20.7V36.0M306.5 282.3V272.6M309.5 281.6V274.2M312.5 283.8V273.2M315.5 283.0V276.9M318.5 24.7V38.4M319.5 280.4V273.1M320.5 25.4V36.5M323.5 282.7V276.8M327.5 25.6V36.6M330.5 278.7V274.9M339.5 29.8V36.2M346.5 284.1V276.7M352.5 283.4V275.6M353.5 19.9V36.7M361.5 286.5V276.4M363.5 283.5V272.6M369.5 284.6V271.8M374.5 20.1V33.9M374.5 284.7V273.6M376.5 23.3V35.6M377.5 281.6V272.5M378.5 23.6V37.0M380.5 283.0V272.6M382.5 283.9V274.8M383.5 23.2V33.1M383.5 283.0V275.0M384.5 284.4V271.6M387.5 24.3V37.3M391.5 282.4V275.0M393.5 283.4V274.2M394.5 25.5V34.0M396.5 28.1V37.6M397.5 283.0V275.1M398.5 279.9V272.8M399.5 26.6V36.8M400.5 25.3V38.0M400.5 281.8V271.8M402.5 279.7V271.9M415.5 31.0V38.4M416.5 277.8V274.2M418.5 17.7V36.0M418.5 286.8V273.1M419.5 19.3V35.0M419.5 286.1V271.8M427.5 285.6V272.0M430.5 286.4V272.1M433.5 285.1V276.5M435.5 20.9V36.3M440.5 284.1V276.6M446.5 282.9V274.7M449.5 24.0V34.5M449.5 284.2V274.6M450.5 21.5V33.0M450.5 282.5V271.9M453.5 22.3V33.5M455.5 282.7V272.2M457.5 284.2V274.1M461.5 283.3V271.9M465.5 25.9V34.3M465.5 281.3V276.7M469.5 28.2V37.2M471.5 279.4V276.1M475.5 29.0V33.6M475.5 279.6V273.3M476.5 27.7V35.6M478.5 281.0V274.8M481.5 28.5V33.2M482.5 277.4V276.9M484.5 32.3V39.0M488.5 30.3V36.4M492.5 283.6V273.5M496.5 286.3V276.2M505.5 283.4V276.0M507.5 20.6V36.6M508.5 285.4V276.1M514.5 21.5V37.9M517.5 282.3V273.1M520.5 285.2V274.5M521.5 284.8V274.7M524.5 22.7V34.9M526.5 25.1V35.4M526.5 281.6V276.7M530.5 23.4V35.1M531.5 281.4V274.8M533.5 283.1V274.5M534.5 26.8V36.4M534.5 283.3V272.7M536.5 280.8V273.1M537.5 25.7V36.6M538.5 25.6V34.1M538.5 282.6V273.6M539.5 283.1V274.6M543.5 26.6V35.1M544.5 280.5V274.9M546.5 279.8V275.6M549.5 280.5V275.9M551.5 29.6V36.1M558.5 32.3V36.7M560.5 284.0V272.6M561.5 283.4V272.3M564.5 284.5V274.6M566.5 16.4V38.2M570.5 284.0V271.2M576.5 19.0V38.8M579.5 282.7V275.3M583.5 285.4V276.3M585.5 19.8V38.1M585.5 285.8V271.6M588.5 284.8V272.5M594.5 285.0V275.1M596.5 22.9V37.1M597.5 24.1V33.3M601.5 24.6V34.4M604.5 25.9V33.7M604.5 280.2V273.9M606.5 281.0V274.3M607.5 280.1V275.3M609.5 281.4V275.7M610.5 281.8V276.6M618.5 281.0V277.0M623.5 27.8V33.4M625.5 279.2V273.8M630.5 32.9V35.9M634.5 285.4V274.4M638.5 16.9V36.0M641.5 19.8V33.8M643.5 20.5V33.5M645.5 285.8V271.3M649.5 282.8V276.9M654.5 286.3V273.9M657.5 22.3V38.8M659.5 285.5V274.5M660.5 283.2V273.8M661.5 282.7V272.5M668.5 284.5V275.3M669.5 283.0V276.4M675.5 23.9V37.6M675.5 283.1V276.5M676.5 282.3V275.6M683.5 280.7V275.1M685.5 25.8V35.8M689.5 279.1V274.7M691.5 29.3V37.7M691.5 280.5V274.3M693.5 29.0V35.2M694.5 27.5V37.9M694.5 278.0V274.8M700.5 278.2V272.9M702.5 279.7V274.8M703.5 284.3V273.1M704.5 18.6V34.8M704.5 284.2V274.4M705.5 19.5V38.2M705.5 287.1V271.8M708.5 17.1V33.3M709.5 17.1V38.2M709.5 286.0V275.8M711.5 19.2V33.5M711.5 285.7V275.0M715.5 16.9V34.3M718.5 283.9V276.8M719.5 283.9V273.0M720.5 19.8V36.3M722.5 284.1V271.9M723.5 21.2V38.4M724.5 22.1V38.0M726.5 22.4V33.0M727.5 19.6V36.8M728.5 22.7V34.6M730.5 285.6V273.8M734.5 282.6V272.0M736.5 21.0V38.7M743.5 281.7V274.3M748.5 24.3V33.3M748.5 283.9V273.6M753.5 25.9V38.4M754.5 25.8V35.8M756.5 281.1V276.6M766.5 280.1V272.8M767.5 30.6V38.1M767.5 278.4V271.8M771.5 276.6V272.3M774.5 30.2V34.2M781.5 17.0V33.3M782.5 286.0V275.3M784.5 20.5V35.0M789.5 286.4V276.5M790.5 18.5V34.8M791.5 18.6V38.4M797.5 20.2V33.2M800.5 282.2V274.9M809.5 22.1V36.1M809.5 283.6V271.7M813.5 283.2V272.1M814.5 24.7V33.2M816.5 280.6V274.2M818.5 22.8V37.3M818.5 282.6V275.8M819.5 23.2V38.0M819.5 283.7V275.5M823.5 282.6V276.1M824.5 281.7V276.6M827.5 28.3V34.4M829.5 28.1V33.0M829.5 281.1V276.7M830.5 26.9V34.8M831.5 28.8V36.7M831.5 279.7V277.0M832.5 27.3V36.2M833.5 29.3V34.1M833.5 279.4V271.9M834.5 279.2V272.9M836.5 279.7V271.0M838.5 27.8V37.5M838.5 279.9V271.5M840.5 278.1V275.3M842.5 32.1V37.9M847.5 285.3V276.8M848.5 286.6V275.8M850.5 286.4V273.2M852.5 284.0V272.9M853.5 16.8V34.6M853.5 284.5V275.8M858.5 19.9V34.7M858.5 285.9V273.4M861.5 20.6V37.3M861.5 283.5V272.1M870.5 22.1V33.8M875.5 19.9V34.3M881.5 282.8V276.7M885.5 22.2V36.7M886.5 283.8V275.7M892.5 281.6V271.2M894.5 26.5V35.1M895.5 283.1V276.9M896.5 282.0V276.6M897.5 282.3V275.4M898.5 24.9V33.1M903.5 279.9V271.6M907.5 29.6V36.4M908.5 280.0V271.7M909.5 27.4V34.4M914.5 277.5V271.9M915.5 31.8V33.6M921.5 284.1V275.2M925.5 286.3V271.0M929.5 286.2V271.3M931.5 286.1V276.1M933.5 285.0V273.0M937.5 284.3V273.0M939.5 21.9V36.1M941.5 283.3V272.5M942.5 284.7V274.9M954.5 21.9V33.5M955.5 282.4V275.3M956.5 281.5V275.0M958.5 25.1V34.4M958.5 281.7V271.0" stroke="#6c6e06" stroke-width="1" stroke-opacity="0.55" fill="none"/>
<path d="M104.5 40V272M106.5 40V272M110.5 40V272M118.5 40V272M120.5 40V272M127.5 40V272M129.5 40V272M132.5 40V272M136.5 40V272M149.5 40V272M159.5 40V272M161.5 40V272M172.5 40V272M178.5 40V272M181.5 40V272M185.5 40V272M201.5 40V272M214.5 40V272M216.5 40V272M229.5 40V272M232.5 40V272M236.5 40V272M240.5 40V272M250.5 40V272M254.5 40V272M258.5 40V272M261.5 40V272M264.5 40V272M269.5 40V272M271.5 40V272M282.5 40V272M296.5 40V272M300.5 40V272M317.5 40V272M326.5 40V272M333.5 40V272M339.5 40V272M349.5 40V272M362.5 40V272M373.5 40V272M378.5 40V272M384.5 40V272M402.5 40V272M405.5 40V272M417.5 40V272M434.5 40V272M438.5 40V272M445.5 40V272M456.5 40V272M468.5 40V272M477.5 40V272M483.5 40V272M486.5 40V272M489.5 40V272M491.5 40V272M496.5 40V272M501.5 40V272M508.5 40V272M510.5 40V272M513.5 40V272M518.5 40V272M521.5 40V272M525.5 40V272M531.5 40V272M533.5 40V272M537.5 40V272M540.5 40V272M554.5 40V272M557.5 40V272M561.5 40V272M569.5 40V272M571.5 40V272M574.5 40V272M581.5 40V272M587.5 40V272M589.5 40V272M595.5 40V272M598.5 40V272M601.5 40V272M603.5 40V272M606.5 40V272M609.5 40V272M612.5 40V272M621.5 40V272M627.5 40V272M633.5 40V272M654.5 40V272M657.5 40V272M659.5 40V272M664.5 40V272M666.5 40V272M670.5 40V272M675.5 40V272M679.5 40V272M682.5 40V272M689.5 40V272M692.5 40V272M694.5 40V272M698.5 40V272M715.5 40V272M720.5 40V272M730.5 40V272M737.5 40V272M742.5 40V272M750.5 40V272M759.5 40V272M762.5 40V272M765.5 40V272M768.5 40V272M783.5 40V272M786.5 40V272M789.5 40V272M794.5 40V272M816.5 40V272M818.5 40V272M822.5 40V272M835.5 40V272M846.5 40V272M859.5 40V272M863.5 40V272M866.5 40V272M873.5 40V272M877.5 40V272M880.5 40V272M882.5 40V272M888.5 40V272M890.5 40V272M894.5 40V272M899.5 40V272M905.5 40V272M917.5 40V272M922.5 40V272M924.5 40V272M935.5 40V272M943.5 40V272M949.5 40V272M953.5 40V272" stroke="#7a7608" stroke-width="1" stroke-opacity="0.22" fill="none"/>
<path d="M101.5 40V272M114.5 40V272M123.5 40V272M139.5 40V272M141.5 40V272M145.5 40V272M153.5 40V272M156.5 40V272M165.5 40V272M169.5 40V272M176.5 40V272M188.5 40V272M190.5 40V272M192.5 40V272M195.5 40V272M198.5 40V272M204.5 40V272M207.5 40V272M210.5 40V272M212.5 40V272M219.5 40V272M222.5 40V272M225.5 40V272M244.5 40V272M247.5 40V272M266.5 40V272M274.5 40V272M278.5 40V272M285.5 40V272M288.5 40V272M291.5 40V272M294.5 40V272M304.5 40V272M307.5 40V272M310.5 40V272M313.5 40V272M321.5 40V272M323.5 40V272M329.5 40V272M337.5 40V272M343.5 40V272M346.5 40V272M352.5 40V272M355.5 40V272M358.5 40V272M365.5 40V272M367.5 40V272M369.5 40V272M376.5 40V272M381.5 40V272M387.5 40V272M390.5 40V272M392.5 40V272M395.5 40V272M399.5 40V272M409.5 40V272M412.5 40V272M415.5 40V272M420.5 40V272M424.5 40V272M428.5 40V272M431.5 40V272M442.5 40V272M447.5 40V272M450.5 40V272M453.5 40V272M459.5 40V272M462.5 40V272M466.5 40V272M470.5 40V272M474.5 40V272M479.5 40V272M481.5 40V272M493.5 40V272M498.5 40V272M505.5 40V272M515.5 40V272M527.5 40V272M535.5 40V272M544.5 40V272M547.5 40V272M551.5 40V272M564.5 40V272M567.5 40V272M578.5 40V272M584.5 40V272M592.5 40V272M615.5 40V272M619.5 40V272M623.5 40V272M630.5 40V272M637.5 40V272M641.5 40V272M644.5 40V272M647.5 40V272M649.5 40V272M651.5 40V272M661.5 40V272M668.5 40V272M673.5 40V272M686.5 40V272M701.5 40V272M704.5 40V272M708.5 40V272M711.5 40V272M718.5 40V272M724.5 40V272M727.5 40V272M733.5 40V272M739.5 40V272M745.5 40V272M747.5 40V272M753.5 40V272M756.5 40V272M772.5 40V272M775.5 40V272M777.5 40V272M780.5 40V272M792.5 40V272M797.5 40V272M800.5 40V272M802.5 40V272M806.5 40V272M810.5 40V272M813.5 40V272M820.5 40V272M824.5 40V272M828.5 40V272M831.5 40V272M839.5 40V272M842.5 40V272M849.5 40V272M852.5 40V272M855.5 40V272M857.5 40V272M869.5 40V272M871.5 40V272M885.5 40V272M896.5 40V272M902.5 40V272M907.5 40V272M910.5 40V272M914.5 40V272M919.5 40V272M926.5 40V272M929.5 40V272M932.5 40V272M939.5 40V272M946.5 40V272M955.5 40V272M958.5 40V272" stroke="#5a5600" stroke-width="1" stroke-opacity="0.22" fill="none"/>
<rect x="101" y="164" width="859" height="6" fill="#7e7a0c" fill-opacity="0.25"/>
<line x1="100.3" y1="153.3" x2="960" y2="153.3" stroke="#2ec43c" stroke-width="1.5" stroke-dasharray="6.4 3.1"/>
<polygon points="833.5,25 862.0,25 868.2,32.8 827.1,32.8" fill="#1a1224"/>
<path d="M846.8,25 L844.0,26.2 Q840.3,30 840.1,36 L840.2,45.8 L846.8,38.2 Z" fill="#1a1224" stroke="#6a6604" stroke-width="0.7"/>
<path d="M848.2,25 L851.0,26.2 Q854.7,30 854.9,36 L855.8,45.2 L848.2,37.8 Z" fill="#1a1224" stroke="#6a6604" stroke-width="0.7"/>
<text transform="translate(870.91,32.80) scale(0.8271,1)" font-family='"Liberation Sans", sans-serif' font-weight="bold" font-size="10.5" fill="#141010" >TELEDYNE</text>
<text transform="translate(921.26,32.80) scale(0.7973,1)" font-family='"Liberation Sans", sans-serif' font-weight="bold" font-size="10.5" fill="#2c2606" >LECROY</text>
<text transform="translate(870.69,43.80) scale(0.8846,1)" font-family='"Liberation Sans", sans-serif' font-weight="normal" font-size="10" fill="#2c2606" >Everywhere</text>
<text transform="translate(917.42,43.80) scale(0.8235,1)" font-family='"Liberation Sans", sans-serif' font-weight="bold" font-size="10" fill="#141008" >you</text>
<text transform="translate(931.27,43.80) scale(1.1299,1)" font-family='"Liberation Sans", sans-serif' font-weight="normal" font-size="10" fill="#2c2606" >look</text>
<polyline points="101.0,150.07 102.0,145.26 103.0,140.47 104.0,135.70 105.0,130.96 106.0,126.26 107.0,121.61 108.0,117.02 109.0,112.50 110.0,108.05 111.0,103.68 112.0,99.41 113.0,95.24 114.0,91.17 115.0,87.23 116.0,83.41 117.0,79.71 118.0,76.16 119.0,72.76 120.0,69.50 121.0,66.41 122.0,63.48 123.0,60.72 124.0,58.13 125.0,55.72 126.0,53.50 127.0,51.47 128.0,49.63 129.0,47.99 130.0,46.55 131.0,45.31 132.0,44.28 133.0,44.20 134.0,44.20 135.0,44.20 136.0,44.20 137.0,44.20 138.0,44.20 139.0,44.20 140.0,44.20 141.0,44.38 142.0,45.44 143.0,46.70 144.0,48.17 145.0,49.83 146.0,51.70 147.0,53.75 148.0,55.99 149.0,58.42 150.0,61.02 151.0,63.80 152.0,66.76 153.0,69.87 154.0,73.14 155.0,76.56 156.0,80.13 157.0,83.84 158.0,87.67 159.0,91.63 160.0,95.71 161.0,99.89 162.0,104.18 163.0,108.55 164.0,113.01 165.0,117.55 166.0,122.14 167.0,126.80 168.0,131.51 169.0,136.25 170.0,141.02 171.0,145.82 172.0,150.62 173.0,155.43 174.0,160.23 175.0,165.02 176.0,169.77 177.0,174.50 178.0,179.18 179.0,183.81 180.0,188.38 181.0,192.87 182.0,197.29 183.0,201.62 184.0,205.85 185.0,209.98 186.0,214.00 187.0,217.90 188.0,221.67 189.0,225.31 190.0,228.80 191.0,232.15 192.0,235.34 193.0,238.37 194.0,241.23 195.0,243.93 196.0,246.44 197.0,248.78 198.0,250.92 199.0,252.88 200.0,254.64 201.0,256.20 202.0,257.56 203.0,258.72 204.0,259.40 205.0,259.40 206.0,259.40 207.0,259.40 208.0,259.40 209.0,259.40 210.0,259.40 211.0,259.40 212.0,259.40 213.0,258.82 214.0,257.68 215.0,256.34 216.0,254.80 217.0,253.05 218.0,251.12 219.0,248.99 220.0,246.67 221.0,244.17 222.0,241.50 223.0,238.65 224.0,235.63 225.0,232.46 226.0,229.12 227.0,225.64 228.0,222.02 229.0,218.26 230.0,214.38 231.0,210.37 232.0,206.25 233.0,202.02 234.0,197.70 235.0,193.29 236.0,188.81 237.0,184.25 238.0,179.62 239.0,174.95 240.0,170.23 241.0,165.47 242.0,160.69 243.0,155.89 244.0,151.08 245.0,146.27 246.0,141.48 247.0,136.70 248.0,131.95 249.0,127.25 250.0,122.58 251.0,117.98 252.0,113.44 253.0,108.97 254.0,104.59 255.0,100.30 256.0,96.10 257.0,92.02 258.0,88.05 259.0,84.20 260.0,80.48 261.0,76.90 262.0,73.46 263.0,70.17 264.0,67.04 265.0,64.08 266.0,61.28 267.0,58.66 268.0,56.21 269.0,53.95 270.0,51.88 271.0,50.00 272.0,48.32 273.0,46.84 274.0,45.55 275.0,44.48 276.0,44.20 277.0,44.20 278.0,44.20 279.0,44.20 280.0,44.20 281.0,44.20 282.0,44.20 283.0,44.20 284.0,44.20 285.0,45.20 286.0,46.42 287.0,47.85 288.0,49.47 289.0,51.29 290.0,53.30 291.0,55.50 292.0,57.89 293.0,60.46 294.0,63.21 295.0,66.12 296.0,69.20 297.0,72.44 298.0,75.83 299.0,79.37 300.0,83.05 301.0,86.86 302.0,90.79 303.0,94.85 304.0,99.01 305.0,103.27 306.0,107.63 307.0,112.07 308.0,116.59 309.0,121.17 310.0,125.82 311.0,130.51 312.0,135.25 313.0,140.02 314.0,144.81 315.0,149.61 316.0,154.42 317.0,159.22 318.0,164.01 319.0,168.78 320.0,173.51 321.0,178.20 322.0,182.84 323.0,187.42 324.0,191.93 325.0,196.37 326.0,200.72 327.0,204.97 328.0,209.12 329.0,213.17 330.0,217.09 331.0,220.89 332.0,224.55 333.0,228.08 334.0,231.46 335.0,234.68 336.0,237.75 337.0,240.65 338.0,243.38 339.0,245.93 340.0,248.30 341.0,250.49 342.0,252.48 343.0,254.29 344.0,255.89 345.0,257.30 346.0,258.50 347.0,259.40 348.0,259.40 349.0,259.40 350.0,259.40 351.0,259.40 352.0,259.40 353.0,259.40 354.0,259.40 355.0,259.40 356.0,259.04 357.0,257.94 358.0,256.64 359.0,255.14 360.0,253.44 361.0,251.54 362.0,249.45 363.0,247.17 364.0,244.71 365.0,242.07 366.0,239.26 367.0,236.28 368.0,233.14 369.0,229.84 370.0,226.39 371.0,222.79 372.0,219.06 373.0,215.20 374.0,211.22 375.0,207.12 376.0,202.92 377.0,198.62 378.0,194.23 379.0,189.75 380.0,185.21 381.0,180.60 382.0,175.93 383.0,171.22 384.0,166.47 385.0,161.69 386.0,156.90 387.0,152.09 388.0,147.28 389.0,142.48 390.0,137.70 391.0,132.95 392.0,128.23 393.0,123.56 394.0,118.94 395.0,114.39 396.0,109.91 397.0,105.50 398.0,101.19 399.0,96.98 400.0,92.87 401.0,88.87 402.0,84.99 403.0,81.25 404.0,77.64 405.0,74.17 406.0,70.85 407.0,67.69 408.0,64.69 409.0,61.85 410.0,59.19 411.0,56.71 412.0,54.41 413.0,52.30 414.0,50.38 415.0,48.66 416.0,47.13 417.0,45.81 418.0,44.68 419.0,44.20 420.0,44.20 421.0,44.20 422.0,44.20 423.0,44.20 424.0,44.20 425.0,44.20 426.0,44.20 427.0,44.20 428.0,44.97 429.0,46.15 430.0,47.53 431.0,49.11 432.0,50.89 433.0,52.86 434.0,55.03 435.0,57.38 436.0,59.91 437.0,62.62 438.0,65.50 439.0,68.54 440.0,71.75 441.0,75.11 442.0,78.62 443.0,82.27 444.0,86.05 445.0,89.96 446.0,93.99 447.0,98.12 448.0,102.37 449.0,106.71 450.0,111.13 451.0,115.63 452.0,120.21 453.0,124.84 454.0,129.52 455.0,134.25 456.0,139.01 457.0,143.80 458.0,148.60 459.0,153.41 460.0,158.22 461.0,163.01 462.0,167.78 463.0,172.52 464.0,177.22 465.0,181.87 466.0,186.47 467.0,190.99 468.0,195.44 469.0,199.81 470.0,204.09 471.0,208.26 472.0,212.33 473.0,216.28 474.0,220.10 475.0,223.79 476.0,227.35 477.0,230.76 478.0,234.02 479.0,237.12 480.0,240.05 481.0,242.82 482.0,245.41 483.0,247.82 484.0,250.04 485.0,252.08 486.0,253.92 487.0,255.57 488.0,257.02 489.0,258.26 490.0,259.30 491.0,259.40 492.0,259.40 493.0,259.40 494.0,259.40 495.0,259.40 496.0,259.40 497.0,259.40 498.0,259.40 499.0,259.24 500.0,258.19 501.0,256.93 502.0,255.47 503.0,253.81 504.0,251.95 505.0,249.90 506.0,247.67 507.0,245.25 508.0,242.64 509.0,239.87 510.0,236.92 511.0,233.81 512.0,230.54 513.0,227.12 514.0,223.56 515.0,219.86 516.0,216.02 517.0,212.07 518.0,207.99 519.0,203.81 520.0,199.53 521.0,195.16 522.0,190.70 523.0,186.17 524.0,181.57 525.0,176.92 526.0,172.21 527.0,167.47 528.0,162.70 529.0,157.90 530.0,153.10 531.0,148.29 532.0,143.49 533.0,138.70 534.0,133.94 535.0,129.22 536.0,124.54 537.0,119.91 538.0,115.34 539.0,110.84 540.0,106.42 541.0,102.09 542.0,97.85 543.0,93.72 544.0,89.70 545.0,85.80 546.0,82.02 547.0,78.38 548.0,74.89 549.0,71.54 550.0,68.34 551.0,65.30 552.0,62.43 553.0,59.74 554.0,57.22 555.0,54.88 556.0,52.73 557.0,50.77 558.0,49.00 559.0,47.43 560.0,46.07 561.0,44.90 562.0,44.20 563.0,44.20 564.0,44.20 565.0,44.20 566.0,44.20 567.0,44.20 568.0,44.20 569.0,44.20 570.0,44.20 571.0,44.75 572.0,45.89 573.0,47.22 574.0,48.76 575.0,50.50 576.0,52.43 577.0,54.56 578.0,56.87 579.0,59.36 580.0,62.03 581.0,64.88 582.0,67.89 583.0,71.06 584.0,74.39 585.0,77.87 586.0,81.49 587.0,85.24 588.0,89.13 589.0,93.13 590.0,97.25 591.0,101.47 592.0,105.79 593.0,110.19 594.0,114.68 595.0,119.24 596.0,123.86 597.0,128.54 598.0,133.26 599.0,138.01 600.0,142.79 601.0,147.59 602.0,152.40 603.0,157.21 604.0,162.00 605.0,166.78 606.0,171.53 607.0,176.24 608.0,180.90 609.0,185.51 610.0,190.05 611.0,194.52 612.0,198.90 613.0,203.20 614.0,207.39 615.0,211.48 616.0,215.46 617.0,219.31 618.0,223.03 619.0,226.62 620.0,230.06 621.0,233.35 622.0,236.48 623.0,239.45 624.0,242.25 625.0,244.88 626.0,247.33 627.0,249.59 628.0,251.67 629.0,253.55 630.0,255.24 631.0,256.73 632.0,258.02 633.0,259.10 634.0,259.40 635.0,259.40 636.0,259.40 637.0,259.40 638.0,259.40 639.0,259.40 640.0,259.40 641.0,259.40 642.0,259.40 643.0,258.43 644.0,257.21 645.0,255.79 646.0,254.17 647.0,252.36 648.0,250.35 649.0,248.15 650.0,245.77 651.0,243.20 652.0,240.46 653.0,237.55 654.0,234.48 655.0,231.24 656.0,227.85 657.0,224.32 658.0,220.64 659.0,216.84 660.0,212.91 661.0,208.86 662.0,204.70 663.0,200.44 664.0,196.08 665.0,191.64 666.0,187.13 667.0,182.54 668.0,177.90 669.0,173.20 670.0,168.47 671.0,163.70 672.0,158.91 673.0,154.11 674.0,149.30 675.0,144.50 676.0,139.71 677.0,134.94 678.0,130.21 679.0,125.52 680.0,120.87 681.0,116.29 682.0,111.78 683.0,107.34 684.0,102.99 685.0,98.73 686.0,94.58 687.0,90.53 688.0,86.61 689.0,82.81 690.0,79.14 691.0,75.61 692.0,72.23 693.0,69.00 694.0,65.93 695.0,63.02 696.0,60.29 697.0,57.73 698.0,55.36 699.0,53.17 700.0,51.16 701.0,49.36 702.0,47.75 703.0,46.34 704.0,45.13 705.0,44.20 706.0,44.20 707.0,44.20 708.0,44.20 709.0,44.20 710.0,44.20 711.0,44.20 712.0,44.20 713.0,44.20 714.0,44.54 715.0,45.63 716.0,46.93 717.0,48.42 718.0,50.12 719.0,52.01 720.0,54.09 721.0,56.37 722.0,58.82 723.0,61.46 724.0,64.27 725.0,67.24 726.0,70.38 727.0,73.68 728.0,77.13 729.0,80.72 730.0,84.44 731.0,88.30 732.0,92.28 733.0,96.37 734.0,100.57 735.0,104.87 736.0,109.26 737.0,113.73 738.0,118.28 739.0,122.89 740.0,127.55 741.0,132.26 742.0,137.01 743.0,141.79 744.0,146.58 745.0,151.39 746.0,156.20 747.0,161.00 748.0,165.78 749.0,170.53 750.0,175.25 751.0,179.92 752.0,184.54 753.0,189.10 754.0,193.58 755.0,197.99 756.0,202.30 757.0,206.52 758.0,210.63 759.0,214.63 760.0,218.51 761.0,222.26 762.0,225.87 763.0,229.35 764.0,232.67 765.0,235.83 766.0,238.84 767.0,241.68 768.0,244.34 769.0,246.83 770.0,249.13 771.0,251.25 772.0,253.17 773.0,254.90 774.0,256.43 775.0,257.76 776.0,258.89 777.0,259.40 778.0,259.40 779.0,259.40 780.0,259.40 781.0,259.40 782.0,259.40 783.0,259.40 784.0,259.40 785.0,259.40 786.0,258.65 787.0,257.48 788.0,256.11 789.0,254.53 790.0,252.76 791.0,250.79 792.0,248.63 793.0,246.28 794.0,243.76 795.0,241.05 796.0,238.18 797.0,235.14 798.0,231.93 799.0,228.58 800.0,225.07 801.0,221.43 802.0,217.65 803.0,213.74 804.0,209.72 805.0,205.58 806.0,201.34 807.0,197.00 808.0,192.58 809.0,188.08 810.0,183.51 811.0,178.88 812.0,174.19 813.0,169.47 814.0,164.71 815.0,159.92 816.0,155.12 817.0,150.31 818.0,145.50 819.0,140.71 820.0,135.94 821.0,131.20 822.0,126.50 823.0,121.84 824.0,117.25 825.0,112.72 826.0,108.27 827.0,103.90 828.0,99.62 829.0,95.44 830.0,91.37 831.0,87.42 832.0,83.59 833.0,79.90 834.0,76.34 835.0,72.92 836.0,69.66 837.0,66.56 838.0,63.62 839.0,60.85 840.0,58.25 841.0,55.84 842.0,53.61 843.0,51.57 844.0,49.72 845.0,48.07 846.0,46.62 847.0,45.37 848.0,44.32 849.0,44.20 850.0,44.20 851.0,44.20 852.0,44.20 853.0,44.20 854.0,44.20 855.0,44.20 856.0,44.20 857.0,44.34 858.0,45.38 859.0,46.64 860.0,48.09 861.0,49.75 862.0,51.60 863.0,53.64 864.0,55.87 865.0,58.29 866.0,60.89 867.0,63.66 868.0,66.60 869.0,69.71 870.0,72.97 871.0,76.39 872.0,79.95 873.0,83.65 874.0,87.48 875.0,91.43 876.0,95.50 877.0,99.68 878.0,103.96 879.0,108.33 880.0,112.79 881.0,117.32 882.0,121.91 883.0,126.57 884.0,131.27 885.0,136.01 886.0,140.78 887.0,145.58 888.0,150.38 889.0,155.19 890.0,159.99 891.0,164.78 892.0,169.54 893.0,174.26 894.0,178.95 895.0,183.58 896.0,188.15 897.0,192.65 898.0,197.07 899.0,201.40 900.0,205.64 901.0,209.78 902.0,213.80 903.0,217.71 904.0,221.48 905.0,225.13 906.0,228.63 907.0,231.98 908.0,235.18 909.0,238.22 910.0,241.10 911.0,243.80 912.0,246.32 913.0,248.66 914.0,250.82 915.0,252.78 916.0,254.56 917.0,256.13 918.0,257.50 919.0,258.67 920.0,259.40 921.0,259.40 922.0,259.40 923.0,259.40 924.0,259.40 925.0,259.40 926.0,259.40 927.0,259.40 928.0,259.40 929.0,258.87 930.0,257.75 931.0,256.41 932.0,254.88 933.0,253.15 934.0,251.22 935.0,249.10 936.0,246.79 937.0,244.30 938.0,241.64 939.0,238.80 940.0,235.79 941.0,232.62 942.0,229.29 943.0,225.82 944.0,222.20 945.0,218.45 946.0,214.57 947.0,210.57 948.0,206.46 949.0,202.24 950.0,197.92 951.0,193.52 952.0,189.03 953.0,184.47 954.0,179.85 955.0,175.18 956.0,170.46 957.0,165.71 958.0,160.93 959.0,156.13" fill="none" stroke="#3c2c70" stroke-width="2"/>
<polyline points="101.0,150.07 102.0,145.26 103.0,140.47 104.0,135.70 105.0,130.96 106.0,126.26 107.0,121.61 108.0,117.02 109.0,112.50 110.0,108.05 111.0,103.68 112.0,99.41 113.0,95.24 114.0,91.17 115.0,87.23 116.0,83.41 117.0,79.71 118.0,76.16 119.0,72.76 120.0,69.50 121.0,66.41 122.0,63.48 123.0,60.72 124.0,58.13 125.0,55.72 126.0,53.50 127.0,51.47 128.0,49.63 129.0,47.99 130.0,46.55 131.0,45.31 132.0,44.28 133.0,44.20 134.0,44.20 135.0,44.20 136.0,44.20 137.0,44.20 138.0,44.20 139.0,44.20 140.0,44.20 141.0,44.38 142.0,45.44 143.0,46.70 144.0,48.17 145.0,49.83 146.0,51.70 147.0,53.75 148.0,55.99 149.0,58.42 150.0,61.02 151.0,63.80 152.0,66.76 153.0,69.87 154.0,73.14 155.0,76.56 156.0,80.13 157.0,83.84 158.0,87.67 159.0,91.63 160.0,95.71 161.0,99.89 162.0,104.18 163.0,108.55 164.0,113.01 165.0,117.55 166.0,122.14 167.0,126.80 168.0,131.51 169.0,136.25 170.0,141.02 171.0,145.82 172.0,150.62 173.0,155.43 174.0,160.23 175.0,165.02 176.0,169.77 177.0,174.50 178.0,179.18 179.0,183.81 180.0,188.38 181.0,192.87 182.0,197.29 183.0,201.62 184.0,205.85 185.0,209.98 186.0,214.00 187.0,217.90 188.0,221.67 189.0,225.31 190.0,228.80 191.0,232.15 192.0,235.34 193.0,238.37 194.0,241.23 195.0,243.93 196.0,246.44 197.0,248.78 198.0,250.92 199.0,252.88 200.0,254.64 201.0,256.20 202.0,257.56 203.0,258.72 204.0,259.40 205.0,259.40 206.0,259.40 207.0,259.40 208.0,259.40 209.0,259.40 210.0,259.40 211.0,259.40 212.0,259.40 213.0,258.82 214.0,257.68 215.0,256.34 216.0,254.80 217.0,253.05 218.0,251.12 219.0,248.99 220.0,246.67 221.0,244.17 222.0,241.50 223.0,238.65 224.0,235.63 225.0,232.46 226.0,229.12 227.0,225.64 228.0,222.02 229.0,218.26 230.0,214.38 231.0,210.37 232.0,206.25 233.0,202.02 234.0,197.70 235.0,193.29 236.0,188.81 237.0,184.25 238.0,179.62 239.0,174.95 240.0,170.23 241.0,165.47 242.0,160.69 243.0,155.89 244.0,151.08 245.0,146.27 246.0,141.48 247.0,136.70 248.0,131.95 249.0,127.25 250.0,122.58 251.0,117.98 252.0,113.44 253.0,108.97 254.0,104.59 255.0,100.30 256.0,96.10 257.0,92.02 258.0,88.05 259.0,84.20 260.0,80.48 261.0,76.90 262.0,73.46 263.0,70.17 264.0,67.04 265.0,64.08 266.0,61.28 267.0,58.66 268.0,56.21 269.0,53.95 270.0,51.88 271.0,50.00 272.0,48.32 273.0,46.84 274.0,45.55 275.0,44.48 276.0,44.20 277.0,44.20 278.0,44.20 279.0,44.20 280.0,44.20 281.0,44.20 282.0,44.20 283.0,44.20 284.0,44.20 285.0,45.20 286.0,46.42 287.0,47.85 288.0,49.47 289.0,51.29 290.0,53.30 291.0,55.50 292.0,57.89 293.0,60.46 294.0,63.21 295.0,66.12 296.0,69.20 297.0,72.44 298.0,75.83 299.0,79.37 300.0,83.05 301.0,86.86 302.0,90.79 303.0,94.85 304.0,99.01 305.0,103.27 306.0,107.63 307.0,112.07 308.0,116.59 309.0,121.17 310.0,125.82 311.0,130.51 312.0,135.25 313.0,140.02 314.0,144.81 315.0,149.61 316.0,154.42 317.0,159.22 318.0,164.01 319.0,168.78 320.0,173.51 321.0,178.20 322.0,182.84 323.0,187.42 324.0,191.93 325.0,196.37 326.0,200.72 327.0,204.97 328.0,209.12 329.0,213.17 330.0,217.09 331.0,220.89 332.0,224.55 333.0,228.08 334.0,231.46 335.0,234.68 336.0,237.75 337.0,240.65 338.0,243.38 339.0,245.93 340.0,248.30 341.0,250.49 342.0,252.48 343.0,254.29 344.0,255.89 345.0,257.30 346.0,258.50 347.0,259.40 348.0,259.40 349.0,259.40 350.0,259.40 351.0,259.40 352.0,259.40 353.0,259.40 354.0,259.40 355.0,259.40 356.0,259.04 357.0,257.94 358.0,256.64 359.0,255.14 360.0,253.44 361.0,251.54 362.0,249.45 363.0,247.17 364.0,244.71 365.0,242.07 366.0,239.26 367.0,236.28 368.0,233.14 369.0,229.84 370.0,226.39 371.0,222.79 372.0,219.06 373.0,215.20 374.0,211.22 375.0,207.12 376.0,202.92 377.0,198.62 378.0,194.23 379.0,189.75 380.0,185.21 381.0,180.60 382.0,175.93 383.0,171.22 384.0,166.47 385.0,161.69 386.0,156.90 387.0,152.09 388.0,147.28 389.0,142.48 390.0,137.70 391.0,132.95 392.0,128.23 393.0,123.56 394.0,118.94 395.0,114.39 396.0,109.91 397.0,105.50 398.0,101.19 399.0,96.98 400.0,92.87 401.0,88.87 402.0,84.99 403.0,81.25 404.0,77.64 405.0,74.17 406.0,70.85 407.0,67.69 408.0,64.69 409.0,61.85 410.0,59.19 411.0,56.71 412.0,54.41 413.0,52.30 414.0,50.38 415.0,48.66 416.0,47.13 417.0,45.81 418.0,44.68 419.0,44.20 420.0,44.20 421.0,44.20 422.0,44.20 423.0,44.20 424.0,44.20 425.0,44.20 426.0,44.20 427.0,44.20 428.0,44.97 429.0,46.15 430.0,47.53 431.0,49.11 432.0,50.89 433.0,52.86 434.0,55.03 435.0,57.38 436.0,59.91 437.0,62.62 438.0,65.50 439.0,68.54 440.0,71.75 441.0,75.11 442.0,78.62 443.0,82.27 444.0,86.05 445.0,89.96 446.0,93.99 447.0,98.12 448.0,102.37 449.0,106.71 450.0,111.13 451.0,115.63 452.0,120.21 453.0,124.84 454.0,129.52 455.0,134.25 456.0,139.01 457.0,143.80 458.0,148.60 459.0,153.41 460.0,158.22 461.0,163.01 462.0,167.78 463.0,172.52 464.0,177.22 465.0,181.87 466.0,186.47 467.0,190.99 468.0,195.44 469.0,199.81 470.0,204.09 471.0,208.26 472.0,212.33 473.0,216.28 474.0,220.10 475.0,223.79 476.0,227.35 477.0,230.76 478.0,234.02 479.0,237.12 480.0,240.05 481.0,242.82 482.0,245.41 483.0,247.82 484.0,250.04 485.0,252.08 486.0,253.92 487.0,255.57 488.0,257.02 489.0,258.26 490.0,259.30 491.0,259.40 492.0,259.40 493.0,259.40 494.0,259.40 495.0,259.40 496.0,259.40 497.0,259.40 498.0,259.40 499.0,259.24 500.0,258.19 501.0,256.93 502.0,255.47 503.0,253.81 504.0,251.95 505.0,249.90 506.0,247.67 507.0,245.25 508.0,242.64 509.0,239.87 510.0,236.92 511.0,233.81 512.0,230.54 513.0,227.12 514.0,223.56 515.0,219.86 516.0,216.02 517.0,212.07 518.0,207.99 519.0,203.81 520.0,199.53 521.0,195.16 522.0,190.70 523.0,186.17 524.0,181.57 525.0,176.92 526.0,172.21 527.0,167.47 528.0,162.70 529.0,157.90 530.0,153.10 531.0,148.29 532.0,143.49 533.0,138.70 534.0,133.94 535.0,129.22 536.0,124.54 537.0,119.91 538.0,115.34 539.0,110.84 540.0,106.42 541.0,102.09 542.0,97.85 543.0,93.72 544.0,89.70 545.0,85.80 546.0,82.02 547.0,78.38 548.0,74.89 549.0,71.54 550.0,68.34 551.0,65.30 552.0,62.43 553.0,59.74 554.0,57.22 555.0,54.88 556.0,52.73 557.0,50.77 558.0,49.00 559.0,47.43 560.0,46.07 561.0,44.90 562.0,44.20 563.0,44.20 564.0,44.20 565.0,44.20 566.0,44.20 567.0,44.20 568.0,44.20 569.0,44.20 570.0,44.20 571.0,44.75 572.0,45.89 573.0,47.22 574.0,48.76 575.0,50.50 576.0,52.43 577.0,54.56 578.0,56.87 579.0,59.36 580.0,62.03 581.0,64.88 582.0,67.89 583.0,71.06 584.0,74.39 585.0,77.87 586.0,81.49 587.0,85.24 588.0,89.13 589.0,93.13 590.0,97.25 591.0,101.47 592.0,105.79 593.0,110.19 594.0,114.68 595.0,119.24 596.0,123.86 597.0,128.54 598.0,133.26 599.0,138.01 600.0,142.79 601.0,147.59 602.0,152.40 603.0,157.21 604.0,162.00 605.0,166.78 606.0,171.53 607.0,176.24 608.0,180.90 609.0,185.51 610.0,190.05 611.0,194.52 612.0,198.90 613.0,203.20 614.0,207.39 615.0,211.48 616.0,215.46 617.0,219.31 618.0,223.03 619.0,226.62 620.0,230.06 621.0,233.35 622.0,236.48 623.0,239.45 624.0,242.25 625.0,244.88 626.0,247.33 627.0,249.59 628.0,251.67 629.0,253.55 630.0,255.24 631.0,256.73 632.0,258.02 633.0,259.10 634.0,259.40 635.0,259.40 636.0,259.40 637.0,259.40 638.0,259.40 639.0,259.40 640.0,259.40 641.0,259.40 642.0,259.40 643.0,258.43 644.0,257.21 645.0,255.79 646.0,254.17 647.0,252.36 648.0,250.35 649.0,248.15 650.0,245.77 651.0,243.20 652.0,240.46 653.0,237.55 654.0,234.48 655.0,231.24 656.0,227.85 657.0,224.32 658.0,220.64 659.0,216.84 660.0,212.91 661.0,208.86 662.0,204.70 663.0,200.44 664.0,196.08 665.0,191.64 666.0,187.13 667.0,182.54 668.0,177.90 669.0,173.20 670.0,168.47 671.0,163.70 672.0,158.91 673.0,154.11 674.0,149.30 675.0,144.50 676.0,139.71 677.0,134.94 678.0,130.21 679.0,125.52 680.0,120.87 681.0,116.29 682.0,111.78 683.0,107.34 684.0,102.99 685.0,98.73 686.0,94.58 687.0,90.53 688.0,86.61 689.0,82.81 690.0,79.14 691.0,75.61 692.0,72.23 693.0,69.00 694.0,65.93 695.0,63.02 696.0,60.29 697.0,57.73 698.0,55.36 699.0,53.17 700.0,51.16 701.0,49.36 702.0,47.75 703.0,46.34 704.0,45.13 705.0,44.20 706.0,44.20 707.0,44.20 708.0,44.20 709.0,44.20 710.0,44.20 711.0,44.20 712.0,44.20 713.0,44.20 714.0,44.54 715.0,45.63 716.0,46.93 717.0,48.42 718.0,50.12 719.0,52.01 720.0,54.09 721.0,56.37 722.0,58.82 723.0,61.46 724.0,64.27 725.0,67.24 726.0,70.38 727.0,73.68 728.0,77.13 729.0,80.72 730.0,84.44 731.0,88.30 732.0,92.28 733.0,96.37 734.0,100.57 735.0,104.87 736.0,109.26 737.0,113.73 738.0,118.28 739.0,122.89 740.0,127.55 741.0,132.26 742.0,137.01 743.0,141.79 744.0,146.58 745.0,151.39 746.0,156.20 747.0,161.00 748.0,165.78 749.0,170.53 750.0,175.25 751.0,179.92 752.0,184.54 753.0,189.10 754.0,193.58 755.0,197.99 756.0,202.30 757.0,206.52 758.0,210.63 759.0,214.63 760.0,218.51 761.0,222.26 762.0,225.87 763.0,229.35 764.0,232.67 765.0,235.83 766.0,238.84 767.0,241.68 768.0,244.34 769.0,246.83 770.0,249.13 771.0,251.25 772.0,253.17 773.0,254.90 774.0,256.43 775.0,257.76 776.0,258.89 777.0,259.40 778.0,259.40 779.0,259.40 780.0,259.40 781.0,259.40 782.0,259.40 783.0,259.40 784.0,259.40 785.0,259.40 786.0,258.65 787.0,257.48 788.0,256.11 789.0,254.53 790.0,252.76 791.0,250.79 792.0,248.63 793.0,246.28 794.0,243.76 795.0,241.05 796.0,238.18 797.0,235.14 798.0,231.93 799.0,228.58 800.0,225.07 801.0,221.43 802.0,217.65 803.0,213.74 804.0,209.72 805.0,205.58 806.0,201.34 807.0,197.00 808.0,192.58 809.0,188.08 810.0,183.51 811.0,178.88 812.0,174.19 813.0,169.47 814.0,164.71 815.0,159.92 816.0,155.12 817.0,150.31 818.0,145.50 819.0,140.71 820.0,135.94 821.0,131.20 822.0,126.50 823.0,121.84 824.0,117.25 825.0,112.72 826.0,108.27 827.0,103.90 828.0,99.62 829.0,95.44 830.0,91.37 831.0,87.42 832.0,83.59 833.0,79.90 834.0,76.34 835.0,72.92 836.0,69.66 837.0,66.56 838.0,63.62 839.0,60.85 840.0,58.25 841.0,55.84 842.0,53.61 843.0,51.57 844.0,49.72 845.0,48.07 846.0,46.62 847.0,45.37 848.0,44.32 849.0,44.20 850.0,44.20 851.0,44.20 852.0,44.20 853.0,44.20 854.0,44.20 855.0,44.20 856.0,44.20 857.0,44.34 858.0,45.38 859.0,46.64 860.0,48.09 861.0,49.75 862.0,51.60 863.0,53.64 864.0,55.87 865.0,58.29 866.0,60.89 867.0,63.66 868.0,66.60 869.0,69.71 870.0,72.97 871.0,76.39 872.0,79.95 873.0,83.65 874.0,87.48 875.0,91.43 876.0,95.50 877.0,99.68 878.0,103.96 879.0,108.33 880.0,112.79 881.0,117.32 882.0,121.91 883.0,126.57 884.0,131.27 885.0,136.01 886.0,140.78 887.0,145.58 888.0,150.38 889.0,155.19 890.0,159.99 891.0,164.78 892.0,169.54 893.0,174.26 894.0,178.95 895.0,183.58 896.0,188.15 897.0,192.65 898.0,197.07 899.0,201.40 900.0,205.64 901.0,209.78 902.0,213.80 903.0,217.71 904.0,221.48 905.0,225.13 906.0,228.63 907.0,231.98 908.0,235.18 909.0,238.22 910.0,241.10 911.0,243.80 912.0,246.32 913.0,248.66 914.0,250.82 915.0,252.78 916.0,254.56 917.0,256.13 918.0,257.50 919.0,258.67 920.0,259.40 921.0,259.40 922.0,259.40 923.0,259.40 924.0,259.40 925.0,259.40 926.0,259.40 927.0,259.40 928.0,259.40 929.0,258.87 930.0,257.75 931.0,256.41 932.0,254.88 933.0,253.15 934.0,251.22 935.0,249.10 936.0,246.79 937.0,244.30 938.0,241.64 939.0,238.80 940.0,235.79 941.0,232.62 942.0,229.29 943.0,225.82 944.0,222.20 945.0,218.45 946.0,214.57 947.0,210.57 948.0,206.46 949.0,202.24 950.0,197.92 951.0,193.52 952.0,189.03 953.0,184.47 954.0,179.85 955.0,175.18 956.0,170.46 957.0,165.71 958.0,160.93 959.0,156.13" fill="none" stroke="#5c40cc" stroke-width="2" stroke-dasharray="7 3"/>
<line x1="102.3" y1="16.1" x2="960" y2="16.1" stroke="#ff0000" stroke-width="3.6" stroke-dasharray="12.2 7.0"/>
<line x1="100" y1="39.9" x2="957" y2="39.9" stroke="#ff0000" stroke-width="4.2" stroke-dasharray="12.8 6.39"/>
<rect x="100.5" y="12.5" width="860" height="277" fill="none" stroke="#8a8a8a" stroke-width="1"/>
<line x1="101" y1="12" x2="101" y2="290" stroke="#111" stroke-width="2" stroke-dasharray="3 3"/>
<line x1="960.3" y1="12" x2="960.3" y2="290" stroke="#444" stroke-width="1.4" stroke-dasharray="3 2"/>
<line x1="186.2" y1="378.4" x2="186.2" y2="654" stroke="#c8c8c8" stroke-width="1" stroke-dasharray="2 2"/>
<line x1="272.4" y1="378.4" x2="272.4" y2="654" stroke="#c8c8c8" stroke-width="1" stroke-dasharray="2 2"/>
<line x1="358.6" y1="378.4" x2="358.6" y2="654" stroke="#c8c8c8" stroke-width="1" stroke-dasharray="2 2"/>
<line x1="444.8" y1="378.4" x2="444.8" y2="654" stroke="#c8c8c8" stroke-width="1" stroke-dasharray="2 2"/>
<line x1="531.0" y1="378.4" x2="531.0" y2="654" stroke="#c8c8c8" stroke-width="1" stroke-dasharray="2 2"/>
<line x1="617.2" y1="378.4" x2="617.2" y2="654" stroke="#c8c8c8" stroke-width="1" stroke-dasharray="2 2"/>
<line x1="703.4" y1="378.4" x2="703.4" y2="654" stroke="#c8c8c8" stroke-width="1" stroke-dasharray="2 2"/>
<line x1="789.6" y1="378.4" x2="789.6" y2="654" stroke="#c8c8c8" stroke-width="1" stroke-dasharray="2 2"/>
<line x1="875.8000000000001" y1="378.4" x2="875.8000000000001" y2="654" stroke="#c8c8c8" stroke-width="1" stroke-dasharray="2 2"/>
<rect x="101" y="392" width="860" height="249.5" fill="#aeab00"/>
<path d="M102.0 641V642.5M106.0 641V645.0M109.0 641V642.5M113.0 641V645.0M117.0 641V642.0M119.0 641V645.0M123.0 641V642.5M127.0 641V645.0M129.0 641V641.8M132.0 641V642.2M134.0 641V641.8M138.0 641V645.0M139.0 641V643.0M142.0 641V642.5M146.0 641V643.5M148.0 641V643.0M149.0 641V645.0M153.0 641V641.8M154.0 641V641.8M156.0 641V642.0M160.0 641V641.8M163.0 641V642.2M166.0 641V643.0M168.0 641V643.0M170.0 641V643.5M172.0 641V642.5M173.0 641V643.5M174.0 641V642.5M176.0 641V642.5M180.0 641V645.0M181.0 641V643.5M183.0 641V642.2M185.0 641V643.0M187.0 641V641.8M188.0 641V643.0M189.0 641V642.5M190.0 641V645.0M192.0 641V642.5M193.0 641V641.8M194.0 641V642.0M196.0 641V641.8M199.0 641V642.5M202.0 641V642.5M203.0 641V643.0M205.0 641V645.0M207.0 641V642.2M208.0 641V642.2M210.0 641V641.8M213.0 641V645.0M214.0 641V642.0M216.0 641V643.5M217.0 641V641.8M218.0 641V642.5M221.0 641V642.0M225.0 641V642.0M228.0 641V643.0M230.0 641V643.5M232.0 641V642.5M235.0 641V641.8M238.0 641V642.5M240.0 641V641.8M242.0 641V645.0M246.0 641V642.2M247.0 641V642.0M249.0 641V642.5M253.0 641V643.5M257.0 641V641.8M258.0 641V642.0M260.0 641V642.5M262.0 641V641.8M266.0 641V642.2M268.0 641V642.5M269.0 641V641.8M270.0 641V642.0M274.0 641V643.5M276.0 641V641.8M280.0 641V642.2M282.0 641V643.0M285.0 641V642.0M289.0 641V642.5M293.0 641V642.0M296.0 641V642.0M298.0 641V642.2M300.0 641V645.0M304.0 641V642.0M306.0 641V642.0M310.0 641V642.0M313.0 641V642.5M317.0 641V641.8M320.0 641V641.8M321.0 641V641.8M322.0 641V643.0M324.0 641V642.0M327.0 641V642.2M330.0 641V645.0M334.0 641V642.5M336.0 641V643.0M338.0 641V643.5M339.0 641V642.0M341.0 641V642.5M345.0 641V643.5M349.0 641V643.0M350.0 641V642.2M352.0 641V642.0M353.0 641V641.8M355.0 641V642.5M358.0 641V642.0M359.0 641V641.8M361.0 641V642.2M363.0 641V643.0M367.0 641V642.0M368.0 641V642.2M370.0 641V642.5M372.0 641V643.5M376.0 641V643.0M378.0 641V643.0M379.0 641V641.8M382.0 641V642.2M384.0 641V641.8M385.0 641V643.0M386.0 641V642.5M387.0 641V643.5M389.0 641V642.2M391.0 641V641.8M392.0 641V642.5M396.0 641V642.2M397.0 641V643.5M399.0 641V645.0M401.0 641V642.2M402.0 641V643.5M405.0 641V641.8M408.0 641V645.0M409.0 641V645.0M412.0 641V643.0M413.0 641V643.0M416.0 641V642.5M420.0 641V641.8M424.0 641V641.8M425.0 641V641.8M426.0 641V642.2M429.0 641V643.5M431.0 641V642.5M435.0 641V642.5M438.0 641V642.5M442.0 641V641.8M446.0 641V645.0M450.0 641V641.8M452.0 641V643.0M453.0 641V642.5M454.0 641V642.0M455.0 641V642.5M459.0 641V643.5M462.0 641V642.2M463.0 641V642.2M465.0 641V642.0M469.0 641V642.0M473.0 641V642.0M475.0 641V643.5M478.0 641V642.5M480.0 641V642.2M483.0 641V643.5M485.0 641V642.0M488.0 641V645.0M490.0 641V642.0M493.0 641V642.0M497.0 641V642.2M499.0 641V642.0M501.0 641V642.5M503.0 641V645.0M504.0 641V643.5M505.0 641V642.2M507.0 641V641.8M510.0 641V642.5M512.0 641V642.0M515.0 641V642.5M519.0 641V642.5M521.0 641V643.5M525.0 641V642.5M527.0 641V641.8M528.0 641V642.2M532.0 641V641.8M534.0 641V643.0M536.0 641V642.2M540.0 641V641.8M542.0 641V642.5M545.0 641V642.0M546.0 641V645.0M548.0 641V642.0M550.0 641V645.0M551.0 641V643.5M552.0 641V642.5M553.0 641V643.5M557.0 641V643.5M559.0 641V641.8M561.0 641V642.0M564.0 641V642.2M566.0 641V643.5M567.0 641V645.0M570.0 641V643.0M571.0 641V642.0M573.0 641V642.2M575.0 641V643.0M579.0 641V643.0M583.0 641V645.0M585.0 641V642.5M587.0 641V641.8M590.0 641V643.5M593.0 641V642.0M596.0 641V642.5M598.0 641V643.5M599.0 641V642.5M603.0 641V643.0M607.0 641V645.0M609.0 641V642.5M611.0 641V643.5M613.0 641V641.8M614.0 641V642.0M616.0 641V642.5M617.0 641V642.2M621.0 641V645.0M623.0 641V642.2M624.0 641V642.2M628.0 641V641.8M629.0 641V642.5M631.0 641V643.0M634.0 641V645.0M636.0 641V642.5M637.0 641V642.0M638.0 641V642.5M639.0 641V642.0M643.0 641V642.2M645.0 641V642.5M647.0 641V643.0M651.0 641V645.0M654.0 641V642.5M658.0 641V643.5M659.0 641V645.0M661.0 641V642.5M665.0 641V643.0M667.0 641V645.0M671.0 641V643.5M673.0 641V643.0M677.0 641V645.0M681.0 641V642.2M683.0 641V643.5M686.0 641V645.0M690.0 641V642.0M692.0 641V645.0M694.0 641V643.0M698.0 641V642.2M702.0 641V642.5M704.0 641V642.5M708.0 641V641.8M712.0 641V641.8M716.0 641V642.5M717.0 641V643.0M718.0 641V643.0M721.0 641V643.0M725.0 641V641.8M728.0 641V641.8M730.0 641V641.8M734.0 641V642.5M737.0 641V645.0M740.0 641V642.2M742.0 641V642.5M745.0 641V642.0M747.0 641V642.5M750.0 641V643.0M752.0 641V641.8M754.0 641V642.5M758.0 641V641.8M760.0 641V642.0M761.0 641V641.8M763.0 641V642.0M765.0 641V641.8M767.0 641V642.2M769.0 641V642.0M773.0 641V642.5M774.0 641V642.5M778.0 641V641.8M782.0 641V643.0M784.0 641V643.5M786.0 641V643.5M790.0 641V642.5M791.0 641V642.5M794.0 641V645.0M798.0 641V643.0M800.0 641V643.0M802.0 641V645.0M806.0 641V643.5M808.0 641V643.0M810.0 641V645.0M814.0 641V643.0M818.0 641V645.0M820.0 641V642.0M822.0 641V642.0M824.0 641V643.0M826.0 641V642.0M828.0 641V645.0M830.0 641V641.8M832.0 641V642.0M834.0 641V643.5M835.0 641V642.2M838.0 641V641.8M841.0 641V645.0M844.0 641V643.0M846.0 641V642.0M849.0 641V643.5M850.0 641V641.8M852.0 641V643.0M854.0 641V645.0M856.0 641V641.8M860.0 641V643.5M862.0 641V643.0M864.0 641V645.0M865.0 641V642.5M866.0 641V641.8M867.0 641V645.0M871.0 641V643.0M875.0 641V643.0M878.0 641V642.0M880.0 641V642.0M881.0 641V642.0M883.0 641V645.0M885.0 641V642.2M886.0 641V643.0M887.0 641V642.0M890.0 641V641.8M891.0 641V642.2M894.0 641V642.5M897.0 641V643.0M899.0 641V642.5M901.0 641V643.0M903.0 641V641.8M904.0 641V645.0M906.0 641V642.0M909.0 641V642.5M911.0 641V643.5M913.0 641V642.5M915.0 641V643.0M917.0 641V641.8M921.0 641V645.0M922.0 641V642.2M923.0 641V645.0M926.0 641V643.0M930.0 641V642.0M934.0 641V643.0M936.0 641V645.0M938.0 641V642.2M939.0 641V643.5M941.0 641V645.0M944.0 641V642.0M946.0 641V643.0M948.0 641V645.0M951.0 641V645.0M953.0 641V642.5M955.0 641V643.5M957.0 641V641.8M959.0 641V642.2" stroke="#b8b540" stroke-width="1" stroke-opacity="0.7" fill="none"/>
<path d="M102.0 392.5V390.5M108.0 392.5V390.5M111.0 392.5V389.5M115.0 392.5V391.5M125.0 392.5V389.5M129.0 392.5V391.5M133.0 392.5V389.5M140.0 392.5V390.5M160.0 392.5V391.5M202.0 392.5V391.0M208.0 392.5V390.5M219.0 392.5V391.0M227.0 392.5V391.5M237.0 392.5V389.5M240.0 392.5V391.5M267.0 392.5V389.5M293.0 392.5V391.0M306.0 392.5V391.5M308.0 392.5V390.5M314.0 392.5V391.0M376.0 392.5V391.0M393.0 392.5V390.5M421.0 392.5V390.5M435.0 392.5V391.0M437.0 392.5V389.5M446.0 392.5V390.5M451.0 392.5V390.5M455.0 392.5V391.5M461.0 392.5V391.0M471.0 392.5V390.5M487.0 392.5V391.5M513.0 392.5V391.0M531.0 392.5V391.0M536.0 392.5V389.5M540.0 392.5V391.0M544.0 392.5V389.5M551.0 392.5V390.5M554.0 392.5V390.5M603.0 392.5V391.0M615.0 392.5V391.0M617.0 392.5V391.0M619.0 392.5V390.5M643.0 392.5V389.5M645.0 392.5V389.5M655.0 392.5V390.5M664.0 392.5V389.5M686.0 392.5V391.0M703.0 392.5V389.5M707.0 392.5V390.5M719.0 392.5V391.5M725.0 392.5V391.0M728.0 392.5V389.5M734.0 392.5V391.0M774.0 392.5V389.5M796.0 392.5V391.0M812.0 392.5V389.5M827.0 392.5V391.5M843.0 392.5V390.5M845.0 392.5V391.5M848.0 392.5V391.0M852.0 392.5V389.5M858.0 392.5V389.5M861.0 392.5V389.5M904.0 392.5V391.5M932.0 392.5V389.5" stroke="#d8d690" stroke-width="1" stroke-opacity="0.8" fill="none"/>
<line x1="101" y1="513.5" x2="961" y2="513.5" stroke="#111" stroke-width="1.6" stroke-dasharray="5.8 3.2"/>
<polygon points="833.6,392.4 862.1,392.4 868.3000000000001,400.2 827.2,400.2" fill="#161012"/>
<path d="M846.9,392.4 L844.1,393.59999999999997 Q840.4,397.4 840.2,403.4 L840.3000000000001,413.2 L846.9,405.59999999999997 Z" fill="#161012" stroke="#aeab00" stroke-width="0.7"/>
<path d="M848.3000000000001,392.4 L851.1,393.59999999999997 Q854.8000000000001,397.4 855.0,403.4 L855.9,412.59999999999997 L848.3000000000001,405.2 Z" fill="#161012" stroke="#aeab00" stroke-width="0.7"/>
<text transform="translate(873.71,400.20) scale(0.8271,1)" font-family='"Liberation Sans", sans-serif' font-weight="bold" font-size="10.5" fill="#141010" >TELEDYNE</text>
<text transform="translate(924.09,400.20) scale(0.7507,1)" font-family='"Liberation Sans", sans-serif' font-weight="bold" font-size="10.5" fill="#2c2606" >LECROY</text>
<text transform="translate(873.49,411.20) scale(0.8846,1)" font-family='"Liberation Sans", sans-serif' font-weight="normal" font-size="10" fill="#2c2606" >Everywhere</text>
<text transform="translate(920.22,411.20) scale(0.8235,1)" font-family='"Liberation Sans", sans-serif' font-weight="bold" font-size="10" fill="#141008" >you</text>
<text transform="translate(934.11,411.20) scale(1.0565,1)" font-family='"Liberation Sans", sans-serif' font-weight="normal" font-size="10" fill="#2c2606" >look</text>
<polyline points="101.0,521.22 102.0,516.53 103.0,511.84 104.0,507.17 105.0,502.51 106.0,497.89 107.0,493.30 108.0,488.76 109.0,484.27 110.0,479.85 111.0,475.51 112.0,471.24 113.0,467.06 114.0,462.98 115.0,459.00 116.0,455.14 117.0,451.40 118.0,447.78 119.0,444.30 120.0,440.96 121.0,437.77 122.0,434.73 123.0,431.85 124.0,429.13 125.0,426.59 126.0,424.22 127.0,422.03 128.0,420.02 129.0,418.20 130.0,416.57 131.0,415.14 132.0,413.90 133.0,412.86 134.0,412.03 135.0,411.39 136.0,410.96 137.0,410.74 138.0,410.72 139.0,410.90 140.0,411.29 141.0,411.89 142.0,412.69 143.0,413.69 144.0,414.89 145.0,416.28 146.0,417.88 147.0,419.66 148.0,421.63 149.0,423.79 150.0,426.12 151.0,428.64 152.0,431.32 153.0,434.17 154.0,437.18 155.0,440.34 156.0,443.66 157.0,447.11 158.0,450.70 159.0,454.42 160.0,458.26 161.0,462.22 162.0,466.28 163.0,470.44 164.0,474.69 165.0,479.02 166.0,483.43 167.0,487.90 168.0,492.43 169.0,497.01 170.0,501.63 171.0,506.28 172.0,510.95 173.0,515.64 174.0,520.33 175.0,525.01 176.0,529.68 177.0,534.33 178.0,538.94 179.0,543.51 180.0,548.04 181.0,552.50 182.0,556.90 183.0,561.23 184.0,565.47 185.0,569.62 186.0,573.66 187.0,577.61 188.0,581.43 189.0,585.14 190.0,588.71 191.0,592.15 192.0,595.44 193.0,598.59 194.0,601.58 195.0,604.41 196.0,607.07 197.0,609.57 198.0,611.88 199.0,614.01 200.0,615.96 201.0,617.72 202.0,619.29 203.0,620.67 204.0,621.84 205.0,622.82 206.0,623.59 207.0,624.16 208.0,624.53 209.0,624.69 210.0,624.65 211.0,624.40 212.0,623.94 213.0,623.29 214.0,622.42 215.0,621.36 216.0,620.10 217.0,618.64 218.0,616.99 219.0,615.15 220.0,613.12 221.0,610.91 222.0,608.52 223.0,605.95 224.0,603.21 225.0,600.31 226.0,597.26 227.0,594.05 228.0,590.69 229.0,587.19 230.0,583.56 231.0,579.80 232.0,575.92 233.0,571.94 234.0,567.84 235.0,563.65 236.0,559.38 237.0,555.02 238.0,550.59 239.0,546.10 240.0,541.55 241.0,536.96 242.0,532.33 243.0,527.67 244.0,523.00 245.0,518.31 246.0,513.62 247.0,508.94 248.0,504.28 249.0,499.64 250.0,495.04 251.0,490.48 252.0,485.97 253.0,481.53 254.0,477.15 255.0,472.85 256.0,468.64 257.0,464.52 258.0,460.50 259.0,456.60 260.0,452.81 261.0,449.14 262.0,445.61 263.0,442.21 264.0,438.96 265.0,435.87 266.0,432.92 267.0,430.15 268.0,427.54 269.0,425.10 270.0,422.84 271.0,420.76 272.0,418.87 273.0,417.17 274.0,415.66 275.0,414.35 276.0,413.23 277.0,412.32 278.0,411.61 279.0,411.10 280.0,410.80 281.0,410.70 282.0,410.81 283.0,411.12 284.0,411.64 285.0,412.36 286.0,413.28 287.0,414.41 288.0,415.73 289.0,417.25 290.0,418.96 291.0,420.86 292.0,422.95 293.0,425.22 294.0,427.66 295.0,430.28 296.0,433.07 297.0,436.02 298.0,439.12 299.0,442.38 300.0,445.78 301.0,449.32 302.0,452.99 303.0,456.79 304.0,460.70 305.0,464.72 306.0,468.85 307.0,473.06 308.0,477.37 309.0,481.75 310.0,486.20 311.0,490.71 312.0,495.27 313.0,499.87 314.0,504.51 315.0,509.18 316.0,513.86 317.0,518.54 318.0,523.23 319.0,527.91 320.0,532.56 321.0,537.19 322.0,541.78 323.0,546.32 324.0,550.81 325.0,555.24 326.0,559.59 327.0,563.87 328.0,568.05 329.0,572.14 330.0,576.12 331.0,579.99 332.0,583.74 333.0,587.37 334.0,590.86 335.0,594.21 336.0,597.41 337.0,600.46 338.0,603.35 339.0,606.08 340.0,608.64 341.0,611.02 342.0,613.23 343.0,615.25 344.0,617.08 345.0,618.72 346.0,620.17 347.0,621.42 348.0,622.47 349.0,623.32 350.0,623.97 351.0,624.42 352.0,624.65 353.0,624.69 354.0,624.52 355.0,624.14 356.0,623.56 357.0,622.78 358.0,621.79 359.0,620.60 360.0,619.22 361.0,617.64 362.0,615.87 363.0,613.91 364.0,611.77 365.0,609.44 366.0,606.94 367.0,604.27 368.0,601.44 369.0,598.44 370.0,595.28 371.0,591.98 372.0,588.54 373.0,584.95 374.0,581.24 375.0,577.41 376.0,573.46 377.0,569.41 378.0,565.26 379.0,561.01 380.0,556.68 381.0,552.28 382.0,547.81 383.0,543.29 384.0,538.71 385.0,534.09 386.0,529.45 387.0,524.78 388.0,520.09 389.0,515.40 390.0,510.72 391.0,506.05 392.0,501.40 393.0,496.78 394.0,492.21 395.0,487.68 396.0,483.21 397.0,478.80 398.0,474.47 399.0,470.23 400.0,466.07 401.0,462.02 402.0,458.07 403.0,454.23 404.0,450.52 405.0,446.94 406.0,443.49 407.0,440.18 408.0,437.02 409.0,434.02 410.0,431.18 411.0,428.51 412.0,426.00 413.0,423.68 414.0,421.53 415.0,419.57 416.0,417.79 417.0,416.21 418.0,414.82 419.0,413.63 420.0,412.64 421.0,411.85 422.0,411.27 423.0,410.89 424.0,410.71 425.0,410.74 426.0,410.98 427.0,411.42 428.0,412.06 429.0,412.91 430.0,413.96 431.0,415.20 432.0,416.65 433.0,418.29 434.0,420.12 435.0,422.13 436.0,424.33 437.0,426.71 438.0,429.27 439.0,431.99 440.0,434.88 441.0,437.92 442.0,441.13 443.0,444.47 444.0,447.96 445.0,451.58 446.0,455.33 447.0,459.20 448.0,463.18 449.0,467.27 450.0,471.45 451.0,475.72 452.0,480.07 453.0,484.50 454.0,488.98 455.0,493.53 456.0,498.12 457.0,502.74 458.0,507.40 459.0,512.08 460.0,516.76 461.0,521.45 462.0,526.13 463.0,530.80 464.0,535.44 465.0,540.04 466.0,544.60 467.0,549.12 468.0,553.57 469.0,557.95 470.0,562.25 471.0,566.47 472.0,570.60 473.0,574.62 474.0,578.53 475.0,582.33 476.0,586.01 477.0,589.55 478.0,592.95 479.0,596.21 480.0,599.32 481.0,602.28 482.0,605.07 483.0,607.69 484.0,610.14 485.0,612.41 486.0,614.50 487.0,616.40 488.0,618.12 489.0,619.64 490.0,620.97 491.0,622.10 492.0,623.02 493.0,623.75 494.0,624.27 495.0,624.59 496.0,624.70 497.0,624.61 498.0,624.31 499.0,623.80 500.0,623.10 501.0,622.19 502.0,621.08 503.0,619.77 504.0,618.26 505.0,616.57 506.0,614.68 507.0,612.61 508.0,610.35 509.0,607.92 510.0,605.31 511.0,602.53 512.0,599.59 513.0,596.50 514.0,593.25 515.0,589.86 516.0,586.33 517.0,582.67 518.0,578.88 519.0,574.98 520.0,570.96 521.0,566.85 522.0,562.64 523.0,558.34 524.0,553.96 525.0,549.52 526.0,545.01 527.0,540.45 528.0,535.85 529.0,531.21 530.0,526.55 531.0,521.87 532.0,517.18 533.0,512.50 534.0,507.82 535.0,503.16 536.0,498.53 537.0,493.94 538.0,489.39 539.0,484.90 540.0,480.47 541.0,476.11 542.0,471.83 543.0,467.64 544.0,463.54 545.0,459.55 546.0,455.68 547.0,451.91 548.0,448.28 549.0,444.78 550.0,441.42 551.0,438.21 552.0,435.15 553.0,432.24 554.0,429.50 555.0,426.93 556.0,424.54 557.0,422.32 558.0,420.29 559.0,418.44 560.0,416.79 561.0,415.33 562.0,414.06 563.0,413.00 564.0,412.13 565.0,411.47 566.0,411.01 567.0,410.76 568.0,410.71 569.0,410.86 570.0,411.23 571.0,411.79 572.0,412.56 573.0,413.54 574.0,414.71 575.0,416.08 576.0,417.64 577.0,419.40 578.0,421.34 579.0,423.48 580.0,425.79 581.0,428.27 582.0,430.93 583.0,433.76 584.0,436.75 585.0,439.89 586.0,443.18 587.0,446.62 588.0,450.19 589.0,453.89 590.0,457.72 591.0,461.66 592.0,465.70 593.0,469.85 594.0,474.09 595.0,478.41 596.0,482.81 597.0,487.27 598.0,491.80 599.0,496.37 600.0,500.98 601.0,505.63 602.0,510.30 603.0,514.98 604.0,519.67 605.0,524.35 606.0,529.03 607.0,533.68 608.0,538.30 609.0,542.88 610.0,547.41 611.0,551.88 612.0,556.29 613.0,560.63 614.0,564.88 615.0,569.04 616.0,573.10 617.0,577.06 618.0,580.90 619.0,584.63 620.0,588.22 621.0,591.68 622.0,594.99 623.0,598.16 624.0,601.17 625.0,604.02 626.0,606.71 627.0,609.23 628.0,611.57 629.0,613.73 630.0,615.70 631.0,617.49 632.0,619.09 633.0,620.49 634.0,621.69 635.0,622.69 636.0,623.50 637.0,624.10 638.0,624.49 639.0,624.68 640.0,624.67 641.0,624.45 642.0,624.02 643.0,623.39 644.0,622.56 645.0,621.52 646.0,620.29 647.0,618.86 648.0,617.23 649.0,615.42 650.0,613.41 651.0,611.23 652.0,608.86 653.0,606.32 654.0,603.61 655.0,600.73 656.0,597.69 657.0,594.50 658.0,591.17 659.0,587.69 660.0,584.08 661.0,580.33 662.0,576.47 663.0,572.50 664.0,568.42 665.0,564.25 666.0,559.98 667.0,555.63 668.0,551.21 669.0,546.73 670.0,542.19 671.0,537.61 672.0,532.98 673.0,528.33 674.0,523.65 675.0,518.97 676.0,514.28 677.0,509.60 678.0,504.93 679.0,500.29 680.0,495.68 681.0,491.11 682.0,486.60 683.0,482.14 684.0,477.76 685.0,473.45 686.0,469.22 687.0,465.09 688.0,461.06 689.0,457.14 690.0,453.33 691.0,449.65 692.0,446.09 693.0,442.68 694.0,439.41 695.0,436.29 696.0,433.33 697.0,430.52 698.0,427.89 699.0,425.43 700.0,423.14 701.0,421.04 702.0,419.12 703.0,417.39 704.0,415.86 705.0,414.52 706.0,413.38 707.0,412.43 708.0,411.70 709.0,411.16 710.0,410.83 711.0,410.70 712.0,410.78 713.0,411.06 714.0,411.55 715.0,412.25 716.0,413.14 717.0,414.24 718.0,415.53 719.0,417.02 720.0,418.71 721.0,420.58 722.0,422.64 723.0,424.89 724.0,427.31 725.0,429.90 726.0,432.67 727.0,435.59 728.0,438.68 729.0,441.92 730.0,445.30 731.0,448.82 732.0,452.47 733.0,456.25 734.0,460.15 735.0,464.15 736.0,468.26 737.0,472.47 738.0,476.76 739.0,481.13 740.0,485.57 741.0,490.07 742.0,494.63 743.0,499.22 744.0,503.86 745.0,508.52 746.0,513.20 747.0,517.89 748.0,522.57 749.0,527.25 750.0,531.91 751.0,536.54 752.0,541.14 753.0,545.69 754.0,550.19 755.0,554.62 756.0,558.99 757.0,563.27 758.0,567.47 759.0,571.57 760.0,575.57 761.0,579.46 762.0,583.23 763.0,586.87 764.0,590.38 765.0,593.75 766.0,596.97 767.0,600.05 768.0,602.96 769.0,605.71 770.0,608.29 771.0,610.70 772.0,612.93 773.0,614.97 774.0,616.83 775.0,618.50 776.0,619.98 777.0,621.26 778.0,622.34 779.0,623.22 780.0,623.89 781.0,624.37 782.0,624.63 783.0,624.70 784.0,624.55 785.0,624.21 786.0,623.65 787.0,622.90 788.0,621.94 789.0,620.78 790.0,619.43 791.0,617.87 792.0,616.13 793.0,614.20 794.0,612.08 795.0,609.78 796.0,607.31 797.0,604.66 798.0,601.84 799.0,598.87 800.0,595.73 801.0,592.45 802.0,589.03 803.0,585.46 804.0,581.77 805.0,577.95 806.0,574.02 807.0,569.98 808.0,565.84 809.0,561.61 810.0,557.30 811.0,552.90 812.0,548.44 813.0,543.92 814.0,539.35 815.0,534.74 816.0,530.10 817.0,525.43 818.0,520.75 819.0,516.06 820.0,511.37 821.0,506.70 822.0,502.05 823.0,497.43 824.0,492.84 825.0,488.31 826.0,483.83 827.0,479.42 828.0,475.07 829.0,470.82 830.0,466.65 831.0,462.58 832.0,458.61 833.0,454.76 834.0,451.03 835.0,447.43 836.0,443.96 837.0,440.64 838.0,437.46 839.0,434.43 840.0,431.57 841.0,428.87 842.0,426.34 843.0,423.99 844.0,421.82 845.0,419.83 846.0,418.03 847.0,416.42 848.0,415.00 849.0,413.79 850.0,412.77 851.0,411.95 852.0,411.34 853.0,410.93 854.0,410.73 855.0,410.73 856.0,410.93 857.0,411.34 858.0,411.96 859.0,412.78 860.0,413.80 861.0,415.02 862.0,416.43 863.0,418.05 864.0,419.85 865.0,421.84 866.0,424.01 867.0,426.37 868.0,428.90 869.0,431.60 870.0,434.46 871.0,437.49 872.0,440.67 873.0,444.00 874.0,447.46 875.0,451.07 876.0,454.80 877.0,458.65 878.0,462.62 879.0,466.69 880.0,470.86 881.0,475.12 882.0,479.46 883.0,483.87 884.0,488.35 885.0,492.89 886.0,497.47 887.0,502.09 888.0,506.75 889.0,511.42 890.0,516.11 891.0,520.79 892.0,525.48 893.0,530.14 894.0,534.79 895.0,539.40 896.0,543.97 897.0,548.49 898.0,552.95 899.0,557.34 900.0,561.65 901.0,565.89 902.0,570.02 903.0,574.06 904.0,577.99 905.0,581.81 906.0,585.50 907.0,589.06 908.0,592.49 909.0,595.77 910.0,598.90 911.0,601.87 912.0,604.68 913.0,607.33 914.0,609.80 915.0,612.10 916.0,614.22 917.0,616.15 918.0,617.89 919.0,619.44 920.0,620.79 921.0,621.95 922.0,622.91 923.0,623.66 924.0,624.21 925.0,624.56 926.0,624.70 927.0,624.63 928.0,624.36 929.0,623.89 930.0,623.21 931.0,622.33 932.0,621.24 933.0,619.96 934.0,618.49 935.0,616.82 936.0,614.95 937.0,612.91 938.0,610.68 939.0,608.27 940.0,605.68 941.0,602.93 942.0,600.02 943.0,596.94 944.0,593.72 945.0,590.34 946.0,586.83 947.0,583.19 948.0,579.42 949.0,575.53 950.0,571.53 951.0,567.43 952.0,563.23 953.0,558.94 954.0,554.58 955.0,550.14 956.0,545.65 957.0,541.09 958.0,536.50 959.0,531.87 960.0,527.21" fill="none" stroke="#3a3ae0" stroke-width="1.5"/>
<line x1="101.5" y1="390" x2="961" y2="390" stroke="#ff0000" stroke-width="4" stroke-dasharray="12.5 6.69"/>
<line x1="100" y1="378.9" x2="961.5" y2="378.9" stroke="#9a9a9a" stroke-width="1"/>
<line x1="100.5" y1="642" x2="100.5" y2="654" stroke="#c0c0c8" stroke-width="1.2"/>
<line x1="101" y1="378.4" x2="101" y2="642" stroke="#111" stroke-width="2" stroke-dasharray="3 3"/>
<line x1="961" y1="378.4" x2="961" y2="654" stroke="#333" stroke-width="1.5"/>
<path d="M962.5 449.5H966.5M966.5 447V452.5" stroke="#a49cff" stroke-width="1.3" fill="none"/>
<path d="M962 153H966M966 150.5V156" stroke="#a8a0f0" stroke-width="1.3" fill="none"/>
<rect x="97.8" y="506" width="2" height="11" fill="#8c8cff"/>
<path d="M100.5 104L104 106M100.5 147V150M101 156L104 158" stroke="#e8e4f0" stroke-width="1.4" fill="none"/>
<path d="M101 514L104 516.5M101 628L104 630" stroke="#f0f0f0" stroke-width="1.4" fill="none"/>
<text transform="translate(45.97,62.30) scale(1.0296,1)" font-family='"Liberation Serif", serif' font-weight="normal" font-size="25.5" fill="#1e1eac" stroke="#1e1eac" stroke-width="0.35">150</text>
<text transform="translate(45.97,95.20) scale(1.0296,1)" font-family='"Liberation Serif", serif' font-weight="normal" font-size="25.5" fill="#1e1eac" stroke="#1e1eac" stroke-width="0.35">100</text>
<text transform="translate(51.85,127.30) scale(1.0763,1)" font-family='"Liberation Serif", serif' font-weight="normal" font-size="25.5" fill="#1e1eac" stroke="#1e1eac" stroke-width="0.35">50</text>
<text transform="translate(58.73,161.30) scale(1.0458,1)" font-family='"Liberation Serif", serif' font-weight="normal" font-size="25.5" fill="#1e1eac" stroke="#1e1eac" stroke-width="0.35">0</text>
<rect x="45.70" y="186.30" width="16.10" height="2.0" fill="#1e1eac"/>
<text transform="translate(61.20,194.30) scale(1.0458,1)" font-family='"Liberation Serif", serif' font-weight="normal" font-size="25.5" fill="#1e1eac" stroke="#1e1eac" stroke-width="0.35">50</text>
<rect x="39.30" y="220.40" width="16.40" height="2.0" fill="#1e1eac"/>
<text transform="translate(55.65,227.70) scale(0.9925,1)" font-family='"Liberation Serif", serif' font-weight="normal" font-size="25.5" fill="#1e1eac" stroke="#1e1eac" stroke-width="0.35">100</text>
<rect x="39.30" y="253.00" width="16.40" height="2.0" fill="#1e1eac"/>
<text transform="translate(55.65,260.60) scale(0.9925,1)" font-family='"Liberation Serif", serif' font-weight="normal" font-size="25.5" fill="#1e1eac" stroke="#1e1eac" stroke-width="0.35">150</text>
<text transform="translate(44.24,427.40) scale(1.0410,1)" font-family='"Liberation Serif", serif' font-weight="normal" font-size="25.5" fill="#1e1eac" stroke="#1e1eac" stroke-width="0.35">150</text>
<text transform="translate(44.24,459.60) scale(1.0410,1)" font-family='"Liberation Serif", serif' font-weight="normal" font-size="25.5" fill="#1e1eac" stroke="#1e1eac" stroke-width="0.35">100</text>
<text transform="translate(50.53,493.10) scale(1.0893,1)" font-family='"Liberation Serif", serif' font-weight="normal" font-size="25.5" fill="#1e1eac" stroke="#1e1eac" stroke-width="0.35">50</text>
<text transform="translate(57.53,526.00) scale(1.0458,1)" font-family='"Liberation Serif", serif' font-weight="normal" font-size="25.5" fill="#1e1eac" stroke="#1e1eac" stroke-width="0.35">0</text>
<rect x="44.80" y="552.60" width="15.60" height="1.8" fill="#1e1eac"/>
<text transform="translate(60.19,560.50) scale(0.9891,1)" font-family='"Liberation Serif", serif' font-weight="normal" font-size="25.5" fill="#1e1eac" stroke="#1e1eac" stroke-width="0.35">50</text>
<rect x="38.70" y="585.60" width="15.20" height="1.8" fill="#1e1eac"/>
<text transform="translate(54.67,593.60) scale(0.9811,1)" font-family='"Liberation Serif", serif' font-weight="normal" font-size="25.5" fill="#1e1eac" stroke="#1e1eac" stroke-width="0.35">100</text>
<rect x="38.70" y="619.70" width="15.20" height="1.8" fill="#1e1eac"/>
<text transform="translate(54.67,627.10) scale(0.9811,1)" font-family='"Liberation Serif", serif' font-weight="normal" font-size="25.5" fill="#1e1eac" stroke="#1e1eac" stroke-width="0.35">150</text>
<text transform="translate(977.84,62.80) scale(1.0961,1)" font-family='"Liberation Serif", serif' font-weight="normal" font-size="25.5" fill="#b8860b" stroke="#b8860b" stroke-width="0.35">3</text>
<text transform="translate(977.76,95.60) scale(1.1667,1)" font-family='"Liberation Serif", serif' font-weight="normal" font-size="25.5" fill="#b8860b" stroke="#b8860b" stroke-width="0.35">2</text>
<text transform="translate(976.99,129.10) scale(1.1599,1)" font-family='"Liberation Serif", serif' font-weight="normal" font-size="25.5" fill="#b8860b" stroke="#b8860b" stroke-width="0.35">1</text>
<text transform="translate(978.35,162.50) scale(1.0271,1)" font-family='"Liberation Serif", serif' font-weight="normal" font-size="25.5" fill="#b8860b" stroke="#b8860b" stroke-width="0.35">0</text>
<rect x="970.80" y="187.80" width="16.10" height="1.8" fill="#b8860b"/>
<text transform="translate(987.52,194.90) scale(1.0052,1)" font-family='"Liberation Serif", serif' font-weight="normal" font-size="25.5" fill="#b8860b" stroke="#b8860b" stroke-width="0.35">1</text>
<rect x="970.80" y="221.40" width="16.10" height="1.8" fill="#b8860b"/>
<text transform="translate(986.53,229.40) scale(1.1961,1)" font-family='"Liberation Serif", serif' font-weight="normal" font-size="25.5" fill="#b8860b" stroke="#b8860b" stroke-width="0.35">2</text>
<rect x="970.80" y="255.60" width="16.10" height="1.8" fill="#b8860b"/>
<text transform="translate(987.05,262.70) scale(1.0867,1)" font-family='"Liberation Serif", serif' font-weight="normal" font-size="25.5" fill="#b8860b" stroke="#b8860b" stroke-width="0.35">3</text>
<text transform="translate(977.74,422.20) scale(1.1812,1)" font-family='"Liberation Serif", serif' font-weight="normal" font-size="25.5" fill="#b8860b" stroke="#b8860b" stroke-width="0.35">3</text>
<text transform="translate(977.69,455.80) scale(1.2255,1)" font-family='"Liberation Serif", serif' font-weight="normal" font-size="25.5" fill="#b8860b" stroke="#b8860b" stroke-width="0.35">2</text>
<text transform="translate(976.87,488.40) scale(1.2151,1)" font-family='"Liberation Serif", serif' font-weight="normal" font-size="25.5" fill="#b8860b" stroke="#b8860b" stroke-width="0.35">1</text>
<text transform="translate(978.35,522.80) scale(1.0271,1)" font-family='"Liberation Serif", serif' font-weight="normal" font-size="25.5" fill="#b8860b" stroke="#b8860b" stroke-width="0.35">0</text>
<rect x="970.80" y="547.10" width="16.20" height="1.8" fill="#b8860b"/>
<text transform="translate(986.61,555.80) scale(1.1047,1)" font-family='"Liberation Serif", serif' font-weight="normal" font-size="25.5" fill="#b8860b" stroke="#b8860b" stroke-width="0.35">1</text>
<rect x="970.80" y="581.50" width="16.20" height="1.8" fill="#b8860b"/>
<text transform="translate(987.10,589.50) scale(1.1373,1)" font-family='"Liberation Serif", serif' font-weight="normal" font-size="25.5" fill="#b8860b" stroke="#b8860b" stroke-width="0.35">2</text>
<rect x="970.80" y="614.00" width="16.20" height="1.8" fill="#b8860b"/>
<text transform="translate(987.20,622.00) scale(1.0489,1)" font-family='"Liberation Serif", serif' font-weight="normal" font-size="25.5" fill="#b8860b" stroke="#b8860b" stroke-width="0.35">3</text>
<text transform="translate(31.00,232.97) rotate(-90) scale(0.9827,1)" font-family='"Liberation Serif", serif' font-weight="normal" font-size="27" fill="#1e1eac" stroke="#1e1eac" stroke-width="0.35">AC Voltage (V)</text>
<text transform="translate(29.20,592.67) rotate(-90) scale(0.9839,1)" font-family='"Liberation Serif", serif' font-weight="normal" font-size="27" fill="#1e1eac" stroke="#1e1eac" stroke-width="0.35">AC Voltage (V)</text>
<text transform="translate(1022.40,62.73) rotate(90) scale(0.9951,1)" font-family='"Liberation Serif", serif' font-weight="normal" font-size="27" fill="#b8860b" stroke="#b8860b" stroke-width="0.35">Voltage (kV</text>
<text transform="translate(1022.40,194.86) rotate(90) scale(0.9665,1)" font-family='"Liberation Serif", serif' font-weight="normal" font-size="16.5" fill="#b8860b" stroke="#b8860b" stroke-width="0.2">peak</text>
<text transform="translate(1022.40,225.83) rotate(90) scale(0.8262,1)" font-family='"Liberation Serif", serif' font-weight="normal" font-size="27" fill="#b8860b" stroke="#b8860b" stroke-width="0.35">)</text>
<text transform="translate(1024.30,424.34) rotate(90) scale(0.9789,1)" font-family='"Liberation Serif", serif' font-weight="normal" font-size="27" fill="#b8860b" stroke="#b8860b" stroke-width="0.35">Voltage (kV</text>
<text transform="translate(1024.30,554.76) rotate(90) scale(0.9859,1)" font-family='"Liberation Serif", serif' font-weight="normal" font-size="16.5" fill="#b8860b" stroke="#b8860b" stroke-width="0.2">peak</text>
<text transform="translate(1024.30,586.33) rotate(90) scale(0.8262,1)" font-family='"Liberation Serif", serif' font-weight="normal" font-size="27" fill="#b8860b" stroke="#b8860b" stroke-width="0.35">)</text>
<text transform="translate(515.06,318.50) scale(1.1338,1)" font-family='"Liberation Serif", serif' font-weight="normal" font-size="25.2" fill="#161616" stroke="#161616" stroke-width="0.2">0</text>
<text transform="translate(570.50,318.50) scale(1.0747,1)" font-family='"Liberation Serif", serif' font-weight="normal" font-size="25.2" fill="#161616" stroke="#161616" stroke-width="0.2">10m</text>
<text transform="translate(651.41,318.50) scale(1.0538,1)" font-family='"Liberation Serif", serif' font-weight="normal" font-size="25.2" fill="#161616" stroke="#161616" stroke-width="0.2">20ms</text>
<text transform="translate(736.39,318.50) scale(1.0671,1)" font-family='"Liberation Serif", serif' font-weight="normal" font-size="25.2" fill="#161616" stroke="#161616" stroke-width="0.2">30ms</text>
<text transform="translate(816.88,318.50) scale(1.0376,1)" font-family='"Liberation Serif", serif' font-weight="normal" font-size="25.2" fill="#161616" stroke="#161616" stroke-width="0.2">40ms</text>
<rect x="148.50" y="310.90" width="15.70" height="2.0" fill="#1c1c9a"/>
<text transform="translate(165.27,318.50) scale(1.0544,1)" font-family='"Liberation Serif", serif' font-weight="normal" font-size="25.2" fill="#161616" stroke="#161616" stroke-width="0.2">40ms</text>
<rect x="230.70" y="310.90" width="15.70" height="2.0" fill="#1c1c9a"/>
<text transform="translate(246.60,318.50) scale(1.0595,1)" font-family='"Liberation Serif", serif' font-weight="normal" font-size="25.2" fill="#161616" stroke="#161616" stroke-width="0.2">30ms</text>
<rect x="319.60" y="310.90" width="15.90" height="2.0" fill="#1c1c9a"/>
<text transform="translate(335.99,318.50) scale(1.0671,1)" font-family='"Liberation Serif", serif' font-weight="normal" font-size="25.2" fill="#161616" stroke="#161616" stroke-width="0.2">20ms</text>
<rect x="402.10" y="310.90" width="15.70" height="2.0" fill="#1c1c9a"/>
<text transform="translate(418.15,318.50) scale(1.0511,1)" font-family='"Liberation Serif", serif' font-weight="normal" font-size="25.2" fill="#161616" stroke="#161616" stroke-width="0.2">10ms</text>
<text transform="translate(514.76,682.90) scale(1.1338,1)" font-family='"Liberation Serif", serif' font-weight="normal" font-size="25.2" fill="#161616" stroke="#161616" stroke-width="0.2">0</text>
<text transform="translate(570.20,682.90) scale(1.0747,1)" font-family='"Liberation Serif", serif' font-weight="normal" font-size="25.2" fill="#161616" stroke="#161616" stroke-width="0.2">10m</text>
<text transform="translate(651.11,682.90) scale(1.0538,1)" font-family='"Liberation Serif", serif' font-weight="normal" font-size="25.2" fill="#161616" stroke="#161616" stroke-width="0.2">20ms</text>
<text transform="translate(736.09,682.90) scale(1.0671,1)" font-family='"Liberation Serif", serif' font-weight="normal" font-size="25.2" fill="#161616" stroke="#161616" stroke-width="0.2">30ms</text>
<text transform="translate(816.58,682.90) scale(1.0376,1)" font-family='"Liberation Serif", serif' font-weight="normal" font-size="25.2" fill="#161616" stroke="#161616" stroke-width="0.2">40ms</text>
<rect x="148.20" y="675.30" width="15.70" height="2.0" fill="#1c1c9a"/>
<text transform="translate(164.97,682.90) scale(1.0544,1)" font-family='"Liberation Serif", serif' font-weight="normal" font-size="25.2" fill="#161616" stroke="#161616" stroke-width="0.2">40ms</text>
<rect x="230.40" y="675.30" width="15.70" height="2.0" fill="#1c1c9a"/>
<text transform="translate(246.30,682.90) scale(1.0595,1)" font-family='"Liberation Serif", serif' font-weight="normal" font-size="25.2" fill="#161616" stroke="#161616" stroke-width="0.2">30ms</text>
<rect x="319.30" y="675.30" width="15.90" height="2.0" fill="#1c1c9a"/>
<text transform="translate(335.69,682.90) scale(1.0671,1)" font-family='"Liberation Serif", serif' font-weight="normal" font-size="25.2" fill="#161616" stroke="#161616" stroke-width="0.2">20ms</text>
<rect x="401.80" y="675.30" width="15.70" height="2.0" fill="#1c1c9a"/>
<text transform="translate(417.85,682.90) scale(1.0511,1)" font-family='"Liberation Serif", serif' font-weight="normal" font-size="25.2" fill="#161616" stroke="#161616" stroke-width="0.2">10ms</text>
<text transform="translate(518.33,351.80) scale(1.0677,1)" font-family='"Liberation Serif", serif' font-weight="bold" font-size="22.2" fill="#161616" >(a)</text>
<text transform="translate(520.34,719.80) scale(1.1372,1)" font-family='"Liberation Serif", serif' font-weight="bold" font-size="22.7" fill="#161616" >(b)</text>
<text transform="translate(626.18,93.50) scale(1.1063,1)" font-family='"Liberation Serif", serif' font-weight="normal" font-size="25.4" fill="#fff6d2" stroke="#fff6d2" stroke-width="0.3">output voltage ripple</text>
<text transform="translate(627.13,137.50) scale(1.0245,1)" font-family='"Liberation Serif", serif' font-weight="normal" font-size="25.4" fill="#fff6d2" stroke="#fff6d2" stroke-width="0.3">(20.9 kHz, about 730</text>
<text transform="translate(853.92,137.20) scale(1.1080,1)" font-family='"Liberation Serif", serif' font-weight="normal" font-size="25.4" fill="#fff6d2" stroke="#fff6d2" stroke-width="0.3">V</text>
<text transform="translate(873.13,137.50) scale(1.0484,1)" font-family='"Liberation Serif", serif' font-weight="bold" font-size="16" fill="#fff6d2" >p-p</text>
<text transform="translate(895.67,137.50) scale(1.0902,1)" font-family='"Liberation Serif", serif' font-weight="normal" font-size="25.4" fill="#fff6d2" stroke="#fff6d2" stroke-width="0.3">)</text>
<text transform="translate(381.34,242.70) scale(1.1012,1)" font-family='"Liberation Serif", serif' font-weight="normal" font-size="24" fill="#ffe9a8" stroke="#ffe9a8" stroke-width="0.3">V</text>
<text transform="translate(399.58,243.00) scale(1.0479,1)" font-family='"Liberation Serif", serif' font-weight="normal" font-size="15.5" fill="#ffe9a8" stroke="#ffe9a8" stroke-width="0.25">in (60 Hz)</text>
<text transform="translate(651.78,455.60) scale(1.0982,1)" font-family='"Liberation Serif", serif' font-weight="normal" font-size="25.4" fill="#ff2400" stroke="#ff2400" stroke-width="0.2">output voltage ripple</text>
<text transform="translate(663.56,501.20) scale(0.9961,1)" font-family='"Liberation Serif", serif' font-weight="normal" font-size="25.4" fill="#ff2400" stroke="#ff2400" stroke-width="0.2">(20.9 kHz, &lt;50</text>
<text transform="translate(824.57,501.40) scale(0.8999,1)" font-family='"Liberation Serif", serif' font-weight="normal" font-size="25.4" fill="#ff2400" >V</text>
<text transform="translate(841.85,501.30) scale(0.9677,1)" font-family='"Liberation Serif", serif' font-weight="bold" font-size="16" fill="#ff2400" >p-p</text>
<text transform="translate(865.28,501.30) scale(0.9388,1)" font-family='"Liberation Serif", serif' font-weight="normal" font-size="25.4" fill="#ff2400" >)</text>
<text transform="translate(393.24,598.20) scale(1.0774,1)" font-family='"Liberation Serif", serif' font-weight="normal" font-size="24" fill="#2a2ae6" stroke="#2a2ae6" stroke-width="0.3">V</text>
<text transform="translate(411.29,598.20) scale(1.0128,1)" font-family='"Liberation Serif", serif' font-weight="normal" font-size="15.5" fill="#2a2ae6" stroke="#2a2ae6" stroke-width="0.25">in (60 Hz)</text>
<line x1="610.3" y1="88.3" x2="595.2" y2="59.1" stroke="#ff0a0a" stroke-width="3.4" stroke-linecap="round"/>
<polygon points="590.2,49.3 601.0,57.2 590.4,62.7" fill="#ff0a0a"/>
<line x1="636.4" y1="456.9" x2="622.5" y2="409.1" stroke="#ff0a0a" stroke-width="3.2" stroke-linecap="round"/>
<polygon points="619.4,398.5 627.6,408.6 618.0,411.4" fill="#ff0a0a"/>
<line x1="412.8" y1="224.5" x2="390.6" y2="194.6" stroke="#ffe9a8" stroke-width="3.6" stroke-linecap="round"/>
<polygon points="384.0,185.8 396.4,191.5 385.9,199.3" fill="#ffe9a8"/>
<line x1="413.8" y1="576.0" x2="392.0" y2="547.6" stroke="#1a1aff" stroke-width="4" stroke-linecap="round"/>
<polygon points="385.3,538.9 397.8,544.5 387.5,552.4" fill="#1a1aff"/>
<text transform="translate(103.25,287.00) scale(0.7780,1)" font-family='"Liberation Sans", sans-serif' font-weight="bold" font-size="8" fill="#2a2a3a" >C8</text>
<text transform="translate(949.20,287.30) scale(0.9336,1)" font-family='"Liberation Sans", sans-serif' font-weight="bold" font-size="8" fill="#2a2a3a" >C8</text>
<text transform="translate(103.23,651.50) scale(0.8299,1)" font-family='"Liberation Sans", sans-serif' font-weight="bold" font-size="8" fill="#2a2a3a" >C8</text>
<text transform="translate(948.72,651.50) scale(0.8817,1)" font-family='"Liberation Sans", sans-serif' font-weight="bold" font-size="8" fill="#2a2a3a" >C8</text>
</svg></body></html>
